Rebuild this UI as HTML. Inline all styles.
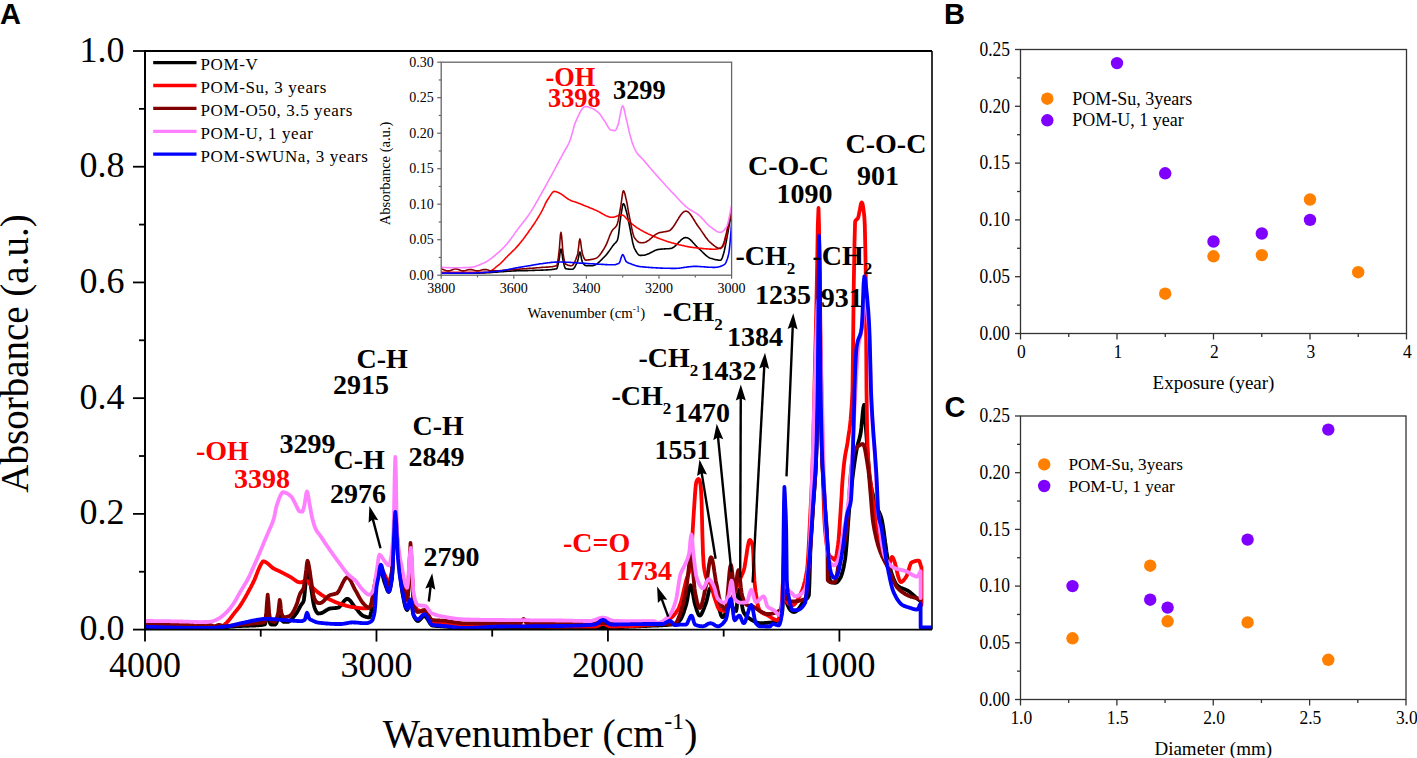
<!DOCTYPE html>
<html><head><meta charset="utf-8"><style>
html,body{margin:0;padding:0;background:#fff;width:1417px;height:758px;overflow:hidden}
svg{display:block}
</style></head><body>
<svg width="1417" height="758" viewBox="0 0 1417 758">
<defs><clipPath id="clipA"><rect x="145.0" y="51.0" width="787.0" height="578.6"/></clipPath>
<clipPath id="clipI"><rect x="441.2" y="62.2" width="290.4" height="213.0"/></clipPath></defs>
<rect width="1417" height="758" fill="#fff"/>
<g clip-path="url(#clipA)">
<polyline points="145.0,627.3 145.7,627.3 146.4,627.3 147.1,627.3 147.8,627.3 148.5,627.3 149.1,627.3 149.8,627.4 150.5,627.4 151.2,627.4 151.9,627.4 152.6,627.4 153.3,627.4 154.0,627.4 154.7,627.4 155.4,627.4 156.1,627.4 156.7,627.5 157.4,627.5 158.1,627.5 158.8,627.5 159.5,627.5 160.2,627.5 160.9,627.5 161.6,627.5 162.3,627.6 163.0,627.6 163.7,627.6 164.3,627.6 165.0,627.6 165.7,627.6 166.4,627.6 167.1,627.6 167.8,627.6 168.5,627.7 169.2,627.7 169.9,627.7 170.6,627.7 171.3,627.7 171.9,627.7 172.6,627.7 173.3,627.7 174.0,627.7 174.7,627.7 175.4,627.8 176.1,627.8 176.8,627.8 177.5,627.8 178.2,627.8 178.9,627.8 179.5,627.8 180.2,627.8 180.9,627.8 181.6,627.8 182.3,627.8 183.0,627.8 183.7,627.8 184.4,627.8 185.1,627.8 185.8,627.8 186.5,627.9 187.1,627.9 187.8,627.9 188.5,627.9 189.2,627.9 189.9,627.9 190.6,627.9 191.3,627.9 192.0,627.9 192.7,627.9 193.3,627.9 194.0,627.9 194.7,627.9 195.4,627.9 196.1,627.9 196.7,627.9 197.4,627.9 198.1,627.9 198.8,627.9 199.5,627.9 200.1,627.9 200.8,627.9 201.5,627.9 202.2,627.9 202.9,627.9 203.5,627.9 204.2,627.9 204.9,627.9 205.6,627.9 206.3,627.9 207.0,627.9 207.6,627.9 208.3,627.9 209.0,627.9 209.7,627.9 210.4,627.9 211.0,627.9 211.7,627.9 212.4,627.9 213.1,627.9 213.8,627.9 214.4,627.9 215.1,627.9 215.8,627.9 216.5,627.8 217.2,627.8 217.8,627.8 218.5,627.8 219.2,627.7 219.9,627.7 220.6,627.6 221.2,627.6 221.9,627.5 222.6,627.5 223.3,627.4 224.0,627.3 224.7,627.3 225.3,627.2 226.0,627.1 226.7,627.1 227.4,627.0 228.1,626.9 228.7,626.9 229.4,626.8 230.1,626.7 230.8,626.7 231.5,626.6 232.1,626.5 232.8,626.5 233.5,626.4 234.2,626.4 234.9,626.3 235.5,626.3 236.2,626.2 236.9,626.2 237.6,626.1 238.3,626.1 238.9,626.1 239.6,626.0 240.3,626.0 241.0,626.0 241.6,626.0 242.3,625.9 243.0,625.9 243.7,625.9 244.3,625.9 245.0,625.9 245.7,625.8 246.4,625.8 247.1,625.8 247.7,625.8 248.4,625.8 249.1,625.7 249.8,625.7 250.4,625.7 251.1,625.7 251.8,625.6 252.5,625.6 253.1,625.6 253.8,625.5 254.5,625.5 255.2,625.5 255.9,625.4 256.6,625.4 257.3,625.4 258.0,625.3 258.7,625.3 259.3,625.2 260.0,625.2 260.7,625.1 261.4,625.0 262.1,624.9 262.8,624.8 263.5,624.7 264.2,624.5 264.9,624.3 265.6,622.1 266.3,618.0 267.0,612.2 267.7,608.4 268.4,612.3 269.1,618.0 269.6,620.8 270.1,623.3 270.7,624.3 271.4,624.5 272.1,624.6 272.8,624.7 273.5,624.7 274.2,624.7 274.9,624.7 275.5,624.4 276.2,623.4 276.9,621.9 277.6,620.1 278.3,618.0 279.0,613.8 279.7,610.7 280.3,612.7 280.8,616.5 281.3,619.2 282.0,620.3 282.6,621.1 283.2,621.6 283.9,621.8 284.5,621.8 285.1,621.8 285.7,621.8 286.4,621.8 287.0,621.8 287.6,621.8 288.3,621.8 288.9,621.5 289.6,621.1 290.3,620.6 291.0,620.0 291.6,619.3 292.3,618.5 293.0,617.7 293.7,616.8 294.3,615.9 295.0,615.1 295.7,614.2 296.4,613.3 297.0,612.3 297.7,611.2 298.3,610.0 299.0,608.7 299.7,607.5 300.3,606.3 301.0,605.1 301.7,604.1 302.4,603.3 303.1,602.2 303.8,600.6 304.4,596.3 305.0,589.5 305.6,583.3 306.3,578.1 306.9,573.3 307.5,571.2 308.1,572.3 308.7,574.7 309.3,577.5 309.9,580.3 310.4,583.7 311.0,587.0 311.6,590.9 312.2,595.0 312.8,599.1 313.4,602.9 314.1,606.0 314.7,608.1 315.4,609.8 316.1,611.2 316.8,612.4 317.4,613.2 318.1,613.5 318.8,613.4 319.4,613.4 320.0,613.4 320.7,613.3 321.3,613.1 322.0,612.9 322.7,612.6 323.4,612.2 324.1,611.8 324.7,611.3 325.4,610.9 326.1,610.4 326.8,610.0 327.5,609.6 328.1,609.2 328.8,608.9 329.5,608.7 330.2,608.5 330.9,608.4 331.6,608.4 332.3,608.3 333.0,608.2 333.6,608.2 334.3,608.1 335.0,608.1 335.7,608.0 336.4,607.9 337.1,607.8 337.8,607.7 338.5,607.5 339.2,607.1 339.8,606.5 340.5,605.7 341.2,604.9 341.9,604.0 342.6,603.1 343.2,602.2 343.9,601.3 344.6,600.5 345.3,599.9 345.9,599.3 346.6,599.0 347.3,598.9 348.0,599.0 348.7,599.3 349.3,599.9 350.0,600.5 350.7,601.3 351.4,602.2 352.0,603.2 352.7,604.1 353.4,605.1 354.1,606.1 354.7,606.9 355.4,607.7 356.1,608.5 356.8,609.3 357.5,610.2 358.2,611.1 358.9,612.0 359.6,612.8 360.3,613.6 361.0,614.3 361.7,614.9 362.4,615.4 363.0,615.8 363.7,616.1 364.4,616.3 365.1,616.6 365.8,616.8 366.5,617.0 367.2,617.2 367.9,617.3 368.6,617.4 369.3,617.4 370.0,616.6 370.6,614.5 371.3,611.3 371.9,607.3 372.6,602.7 373.2,597.9 373.9,593.0 374.6,588.4 375.2,584.4 375.9,581.1 376.5,578.9 377.1,577.5 377.8,576.1 378.4,574.8 379.0,573.7 379.6,572.8 380.2,572.2 380.8,572.0 381.5,572.6 382.1,574.1 382.8,576.2 383.5,578.7 384.1,581.0 384.8,583.0 385.4,584.8 386.1,586.8 386.8,588.7 387.4,590.4 388.1,591.6 388.7,592.0 389.4,591.3 390.0,589.3 390.7,586.2 391.3,582.4 392.0,578.0 392.7,568.3 393.3,551.8 394.0,533.7 394.6,519.0 395.3,513.0 395.9,517.2 396.4,526.3 397.0,535.0 397.6,542.7 398.2,550.7 398.9,558.7 399.5,566.5 400.1,573.7 400.8,580.2 401.4,585.7 402.0,590.0 402.6,593.7 403.3,597.3 403.9,600.7 404.6,603.7 405.2,606.3 405.9,608.3 406.6,609.5 407.2,610.0 407.9,609.0 408.5,606.5 409.2,603.5 409.8,601.0 410.5,600.0 411.2,601.5 411.8,605.0 412.5,609.4 413.1,613.5 413.8,616.0 414.5,617.3 415.1,618.5 415.8,619.5 416.5,620.3 417.1,620.8 417.8,621.0 418.5,620.9 419.1,620.5 419.8,619.9 420.4,619.2 421.1,618.5 421.8,617.8 422.4,617.1 423.1,616.5 423.7,616.1 424.4,616.0 425.1,616.2 425.7,616.7 426.4,617.4 427.0,618.4 427.7,619.4 428.4,620.6 429.0,621.7 429.7,622.8 430.3,623.8 431.0,624.6 431.6,625.2 432.3,625.5 433.0,625.6 433.7,625.7 434.4,625.8 435.1,625.9 435.8,625.9 436.5,626.0 437.2,626.1 437.9,626.1 438.6,626.2 439.3,626.2 440.0,626.2 440.7,626.3 441.4,626.3 442.1,626.4 442.8,626.4 443.5,626.4 444.2,626.5 444.9,626.6 445.6,626.6 446.3,626.7 447.0,626.7 447.7,626.8 448.4,626.9 449.1,626.9 449.7,627.0 450.4,627.1 451.1,627.1 451.8,627.2 452.5,627.3 453.2,627.3 453.9,627.4 454.6,627.5 455.3,627.5 456.0,627.6 456.7,627.6 457.4,627.7 458.1,627.7 458.8,627.8 459.5,627.8 460.1,627.9 460.8,627.9 461.5,627.9 462.2,628.0 462.9,628.0 463.6,628.0 464.3,628.0 465.0,628.0 465.7,628.0 466.4,628.0 467.1,628.0 467.8,628.0 468.5,628.0 469.2,628.0 469.9,628.0 470.6,628.0 471.3,628.0 472.0,628.0 472.7,628.0 473.4,628.0 474.1,628.0 474.8,628.0 475.5,628.0 476.2,628.0 476.9,628.0 477.6,628.0 478.3,628.0 479.0,628.0 479.7,628.0 480.4,628.0 481.1,628.0 481.8,628.0 482.5,628.0 483.2,628.0 483.9,628.0 484.6,628.0 485.3,628.0 486.0,628.0 486.7,628.0 487.4,628.0 488.1,628.0 488.8,628.0 489.5,628.0 490.2,628.0 490.9,628.0 491.6,628.0 492.3,628.0 493.0,628.0 493.7,628.0 494.4,628.0 495.1,628.0 495.8,628.0 496.5,628.0 497.2,628.0 497.9,628.0 498.6,628.0 499.3,628.0 500.0,628.0 500.7,628.0 501.4,628.0 502.1,628.0 502.8,628.0 503.5,628.0 504.2,628.0 504.9,628.0 505.6,628.0 506.3,628.0 507.0,628.0 507.7,628.0 508.4,628.0 509.1,627.9 509.8,627.9 510.5,627.9 511.2,627.9 511.9,627.9 512.6,627.9 513.3,627.9 514.0,627.9 514.7,627.9 515.4,627.9 516.1,627.9 516.8,627.9 517.5,627.9 518.2,627.9 518.9,627.9 519.6,627.9 520.3,627.9 521.0,627.9 521.7,627.9 522.4,627.9 523.1,627.9 523.8,627.9 524.5,627.9 525.2,627.9 525.9,627.9 526.6,627.9 527.3,627.9 528.0,627.9 528.7,627.9 529.4,627.9 530.1,627.9 530.8,627.9 531.5,627.9 532.2,627.9 532.8,627.9 533.5,627.9 534.2,627.9 534.9,627.9 535.6,627.9 536.3,627.9 537.0,627.9 537.7,627.9 538.4,627.9 539.1,627.9 539.8,627.9 540.5,627.8 541.2,627.8 541.9,627.8 542.6,627.8 543.3,627.8 544.0,627.8 544.7,627.8 545.4,627.8 546.1,627.8 546.8,627.8 547.5,627.8 548.2,627.8 548.9,627.8 549.6,627.8 550.3,627.8 551.0,627.8 551.7,627.8 552.4,627.8 553.1,627.8 553.8,627.8 554.5,627.8 555.2,627.8 555.9,627.8 556.6,627.8 557.3,627.8 558.0,627.8 558.7,627.8 559.4,627.8 560.1,627.8 560.8,627.8 561.5,627.7 562.2,627.7 562.9,627.7 563.6,627.7 564.3,627.7 565.0,627.7 565.7,627.7 566.4,627.7 567.1,627.7 567.8,627.7 568.5,627.7 569.2,627.7 569.9,627.7 570.6,627.7 571.3,627.7 572.0,627.7 572.7,627.7 573.4,627.7 574.1,627.7 574.8,627.7 575.5,627.7 576.2,627.7 576.9,627.7 577.6,627.7 578.3,627.7 579.0,627.6 579.7,627.6 580.4,627.6 581.1,627.6 581.8,627.6 582.5,627.6 583.2,627.6 583.9,627.6 584.6,627.6 585.3,627.6 586.0,627.6 586.7,627.6 587.4,627.6 588.1,627.6 588.8,627.6 589.5,627.6 590.2,627.6 590.9,627.6 591.6,627.6 592.3,627.6 593.0,627.6 593.7,627.5 594.4,627.5 595.1,627.5 595.8,627.5 596.5,627.5 597.2,627.5 597.9,627.5 598.6,627.5 599.3,627.5 600.0,627.5 600.7,627.5 601.4,627.5 602.1,627.5 602.8,627.5 603.5,627.5 604.2,627.5 604.9,627.4 605.6,627.4 606.2,627.4 606.9,627.4 607.6,627.4 608.3,627.4 609.0,627.4 609.7,627.4 610.4,627.3 611.1,627.3 611.8,627.3 612.5,627.3 613.2,627.3 613.9,627.3 614.6,627.2 615.3,627.2 616.0,627.2 616.7,627.2 617.4,627.2 618.1,627.1 618.8,627.1 619.4,627.1 620.1,627.1 620.8,627.1 621.5,627.0 622.2,627.0 622.9,627.0 623.6,627.0 624.3,626.9 625.0,626.9 625.7,626.9 626.4,626.9 627.1,626.8 627.8,626.8 628.5,626.8 629.2,626.7 629.9,626.7 630.6,626.7 631.2,626.7 631.9,626.6 632.6,626.6 633.3,626.6 634.0,626.5 634.7,626.5 635.4,626.5 636.1,626.4 636.8,626.4 637.5,626.4 638.2,626.4 638.9,626.3 639.6,626.3 640.3,626.3 641.0,626.2 641.7,626.2 642.4,626.2 643.1,626.1 643.8,626.1 644.4,626.1 645.1,626.0 645.8,626.0 646.5,626.0 647.2,625.9 647.9,625.9 648.6,625.9 649.3,625.8 650.0,625.8 650.7,625.8 651.4,625.7 652.1,625.7 652.8,625.7 653.5,625.6 654.2,625.6 654.9,625.6 655.6,625.6 656.2,625.5 656.9,625.5 657.6,625.5 658.3,625.5 659.0,625.4 659.7,625.4 660.4,625.4 661.1,625.3 661.8,625.3 662.5,625.3 663.2,625.2 663.9,625.2 664.6,625.1 665.3,625.1 666.0,625.0 666.7,625.0 667.4,624.9 668.1,624.9 668.8,624.8 669.4,624.7 670.1,624.6 670.8,624.6 671.5,624.5 672.2,624.4 672.9,624.3 673.6,624.2 674.3,624.1 675.0,624.0 675.6,623.8 676.2,623.6 676.9,623.2 677.5,622.7 678.1,622.2 678.8,621.6 679.4,620.9 680.0,620.2 680.7,619.3 681.4,618.1 682.0,616.7 682.7,615.1 683.4,613.3 684.1,611.3 684.7,609.3 685.4,607.2 686.1,605.0 686.7,602.4 687.4,599.0 688.0,595.2 688.7,591.5 689.3,588.4 690.0,586.1 690.6,585.3 691.3,586.1 691.9,588.4 692.6,591.6 693.2,595.3 693.9,599.1 694.5,602.4 695.2,605.0 695.8,607.0 696.5,609.1 697.1,611.1 697.8,612.9 698.4,614.3 699.1,615.3 699.7,615.6 700.4,615.4 701.1,614.7 701.7,613.6 702.4,612.2 703.1,610.6 703.8,608.9 704.4,607.1 705.1,605.3 705.8,603.5 706.5,601.4 707.1,598.8 707.8,595.9 708.4,593.1 709.1,590.6 709.7,588.9 710.4,588.3 711.1,588.5 711.7,589.1 712.4,590.1 713.1,591.3 713.7,592.7 714.4,594.2 715.1,595.9 715.7,597.5 716.4,599.0 717.1,600.8 717.8,603.1 718.4,605.7 719.1,608.5 719.8,611.1 720.5,613.5 721.1,615.4 721.8,616.7 722.5,617.2 723.2,616.9 723.9,616.1 724.6,615.0 725.3,613.5 726.0,611.9 726.6,610.3 727.3,608.7 728.0,607.2 728.7,606.1 729.4,605.3 730.1,605.0 730.8,605.2 731.5,605.8 732.1,606.6 732.8,607.5 733.5,608.5 734.2,609.4 734.8,610.2 735.5,610.8 736.2,611.0 736.8,607.7 737.3,600.4 737.9,593.1 738.4,589.8 739.1,590.7 739.8,592.9 740.4,596.2 741.1,600.1 741.8,604.1 742.4,607.8 743.1,610.8 743.8,612.6 744.5,613.6 745.1,614.6 745.8,615.4 746.5,616.1 747.1,616.7 747.8,617.3 748.5,617.8 749.1,618.3 749.8,618.7 750.5,619.1 751.2,619.6 751.8,620.0 752.5,620.4 753.2,620.8 753.9,621.2 754.6,621.6 755.2,621.9 755.9,622.2 756.6,622.5 757.3,622.7 758.0,622.9 758.6,623.1 759.3,623.2 760.0,623.2 760.7,623.2 761.4,623.2 762.0,623.2 762.7,623.1 763.4,623.1 764.1,623.1 764.8,623.0 765.5,623.0 766.1,622.9 766.8,622.9 767.5,622.8 768.2,622.7 768.8,622.7 769.5,622.6 770.2,622.6 770.8,622.5 771.5,622.4 772.2,622.3 772.8,622.2 773.5,622.0 774.1,621.9 774.8,621.7 775.5,621.6 776.1,621.4 776.8,621.1 777.5,620.9 778.1,620.6 778.8,620.3 779.4,619.8 780.0,618.9 780.6,617.6 781.3,615.7 781.9,613.2 782.5,610.0 783.1,590.2 783.8,557.3 784.4,540.0 784.9,555.1 785.5,583.6 786.0,600.0 786.7,602.3 787.3,604.2 788.0,606.0 788.7,607.4 789.3,608.6 790.0,609.6 790.7,610.4 791.3,611.0 792.0,611.5 792.7,611.8 793.3,611.9 794.0,612.0 794.7,611.9 795.4,611.7 796.1,611.3 796.8,610.7 797.4,610.1 798.1,609.3 798.8,608.5 799.5,607.6 800.2,606.7 800.9,605.7 801.6,604.7 802.2,603.7 802.9,602.7 803.6,601.7 804.3,600.8 805.0,600.0 805.6,599.4 806.3,598.9 807.0,598.4 807.6,597.7 808.2,596.7 808.9,595.2 809.4,584.4 810.0,563.8 810.5,546.5 811.1,534.7 811.8,525.0 812.4,516.3 813.0,507.5 813.6,499.1 814.2,491.1 814.8,482.5 815.4,473.7 816.0,462.5 816.5,446.6 817.0,425.5 817.4,407.0 817.8,382.5 818.1,345.7 818.5,302.5 819.1,238.5 819.8,302.5 820.1,344.9 820.5,382.5 820.9,407.0 821.3,425.5 821.8,446.6 822.3,462.5 822.9,473.5 823.5,482.5 824.0,490.9 824.5,499.3 825.0,507.5 825.6,517.6 826.2,527.6 826.9,537.3 827.5,546.5 828.2,557.3 828.9,568.5 829.5,577.5 830.2,581.4 830.9,581.8 831.5,582.0 832.2,582.3 832.9,582.5 833.5,582.6 834.2,582.7 834.8,582.8 835.5,582.8 836.2,582.7 836.9,582.3 837.6,581.7 838.2,581.0 838.9,580.1 839.6,579.1 840.3,578.0 841.0,576.7 841.6,574.9 842.3,572.7 843.0,570.1 843.7,567.1 844.3,563.7 845.0,560.0 845.6,555.3 846.2,548.8 846.9,540.9 847.5,532.2 848.1,523.3 848.8,514.6 849.4,506.6 850.0,500.0 850.7,493.6 851.4,487.3 852.1,481.3 852.8,475.6 853.5,470.1 854.2,464.9 854.9,460.1 855.6,455.5 856.3,451.4 857.0,447.7 857.6,445.0 858.2,442.7 858.8,440.7 859.4,438.6 860.0,436.3 860.6,433.4 861.3,428.0 862.0,420.7 862.7,413.1 863.4,407.3 864.1,404.9 864.7,409.6 865.4,419.9 866.0,430.0 866.7,439.1 867.3,448.7 868.0,458.2 868.7,467.0 869.3,474.5 870.0,480.0 870.7,484.1 871.3,487.7 872.0,490.9 872.7,493.7 873.3,496.3 874.0,498.7 874.7,500.9 875.3,503.0 876.0,505.0 876.7,506.8 877.3,508.4 878.0,509.8 878.6,511.2 879.3,512.5 880.0,514.0 880.6,515.7 881.3,517.8 882.0,520.5 882.6,523.9 883.3,528.0 883.9,532.6 884.6,537.4 885.2,542.3 885.9,547.1 886.5,551.7 887.2,555.9 887.8,559.5 888.5,562.4 889.2,564.9 889.9,567.4 890.6,569.8 891.2,572.0 891.9,574.2 892.6,576.2 893.3,578.1 894.0,579.9 894.7,581.4 895.3,582.8 896.0,584.0 896.7,584.9 897.4,585.6 898.1,586.1 898.7,586.6 899.4,587.0 900.1,587.4 900.7,587.7 901.4,588.0 902.1,588.3 902.8,588.6 903.4,588.8 904.1,589.0 904.8,589.3 905.4,589.6 906.1,589.8 906.8,590.2 907.4,590.5 908.1,590.9 908.8,591.3 909.4,591.8 910.1,592.3 910.8,592.9 911.4,593.4 912.1,594.0 912.8,594.6 913.5,595.2 914.1,595.8 914.8,596.4 915.5,597.0 916.1,597.6 916.8,598.2 917.5,598.8 918.1,599.3 918.8,599.8 919.4,600.2 920.0,600.6 920.6,601.0" fill="none" stroke="#000000" stroke-width="3.8" stroke-linejoin="round" stroke-linecap="round" />
<polyline points="145.0,626.1 145.7,626.1 146.4,626.2 147.1,626.2 147.8,626.2 148.5,626.2 149.1,626.2 149.8,626.3 150.5,626.3 151.2,626.3 151.9,626.3 152.6,626.3 153.3,626.4 154.0,626.4 154.7,626.4 155.4,626.4 156.1,626.5 156.7,626.5 157.4,626.5 158.1,626.5 158.8,626.5 159.5,626.6 160.2,626.6 160.9,626.6 161.6,626.6 162.3,626.7 163.0,626.7 163.7,626.7 164.3,626.7 165.0,626.8 165.7,626.8 166.4,626.8 167.1,626.8 167.8,626.8 168.5,626.9 169.2,626.9 169.9,626.9 170.6,626.9 171.3,626.9 171.9,627.0 172.6,627.0 173.3,627.0 174.0,627.0 174.7,627.0 175.4,627.1 176.1,627.1 176.8,627.1 177.5,627.1 178.2,627.1 178.9,627.1 179.5,627.2 180.2,627.2 180.9,627.2 181.6,627.2 182.3,627.2 183.0,627.2 183.7,627.2 184.4,627.2 185.1,627.2 185.8,627.3 186.5,627.3 187.1,627.3 187.8,627.3 188.5,627.3 189.2,627.3 189.9,627.3 190.6,627.3 191.3,627.3 192.0,627.3 192.7,627.3 193.3,627.3 194.0,627.3 194.7,627.3 195.4,627.3 196.1,627.3 196.7,627.3 197.4,627.3 198.1,627.3 198.8,627.3 199.5,627.3 200.1,627.3 200.8,627.3 201.5,627.3 202.2,627.3 202.9,627.3 203.5,627.3 204.2,627.3 204.9,627.3 205.6,627.3 206.3,627.3 207.0,627.3 207.6,627.3 208.3,627.3 209.0,627.3 209.7,627.3 210.4,627.3 211.0,627.3 211.7,627.3 212.4,627.3 213.1,627.3 213.8,627.3 214.4,627.3 215.1,627.3 215.7,627.3 216.4,627.3 217.0,627.3 217.7,627.3 218.3,627.3 218.9,627.3 219.6,627.3 220.2,627.3 220.9,627.2 221.5,627.0 222.2,626.7 222.8,626.2 223.5,625.7 224.1,625.1 224.8,624.5 225.4,623.8 226.1,623.2 226.8,622.5 227.4,621.8 228.1,621.2 228.7,620.4 229.4,619.6 230.1,618.8 230.7,617.9 231.4,617.0 232.1,616.1 232.8,615.2 233.4,614.3 234.1,613.4 234.8,612.6 235.5,611.7 236.2,610.8 236.9,610.0 237.6,609.1 238.3,608.2 239.0,607.3 239.7,606.3 240.4,605.3 241.0,604.3 241.7,603.3 242.3,602.3 243.0,601.2 243.6,600.1 244.3,599.0 244.9,597.9 245.6,596.8 246.2,595.6 246.9,594.4 247.5,593.3 248.2,592.0 248.9,590.7 249.6,589.4 250.3,588.1 251.0,586.8 251.7,585.4 252.4,584.1 253.1,582.6 253.8,581.2 254.5,579.7 255.2,578.0 255.9,576.3 256.6,574.4 257.3,572.6 258.0,570.8 258.7,569.1 259.3,567.7 260.0,566.3 260.7,564.9 261.4,563.5 262.1,562.4 262.8,561.6 263.5,561.3 264.2,561.4 264.9,561.7 265.6,562.1 266.3,562.5 266.9,562.9 267.6,563.3 268.2,563.9 268.9,564.5 269.6,565.1 270.2,565.7 270.9,566.3 271.5,566.9 272.2,567.5 272.8,568.0 273.5,568.4 274.1,568.8 274.8,569.1 275.5,569.4 276.1,569.7 276.8,570.0 277.4,570.3 278.1,570.6 278.8,570.9 279.5,571.3 280.2,571.6 280.9,572.0 281.6,572.3 282.3,572.7 283.0,573.0 283.7,573.4 284.3,573.7 285.0,574.1 285.7,574.5 286.4,574.8 287.1,575.2 287.8,575.6 288.5,575.9 289.2,576.3 289.9,576.7 290.6,577.1 291.3,577.5 292.0,578.0 292.7,578.5 293.4,579.0 294.1,579.5 294.8,580.0 295.5,580.5 296.2,580.9 296.8,581.4 297.5,581.7 298.2,582.0 298.9,582.2 299.6,582.4 300.3,582.4 301.0,582.4 301.7,582.2 302.3,581.9 303.0,581.6 303.7,581.3 304.3,581.0 305.0,580.7 305.7,580.5 306.3,580.5 307.0,580.6 307.6,581.1 308.3,581.8 309.0,582.7 309.6,583.6 310.3,584.6 310.9,585.6 311.6,586.5 312.2,587.2 312.9,587.9 313.5,588.5 314.2,589.1 314.9,589.7 315.5,590.3 316.2,590.9 316.8,591.4 317.5,592.0 318.1,592.5 318.8,592.9 319.5,593.4 320.2,593.9 320.9,594.4 321.5,594.8 322.2,595.2 322.9,595.7 323.6,596.1 324.2,596.5 324.9,596.9 325.6,597.3 326.3,597.6 327.0,598.0 327.6,598.4 328.3,598.7 329.0,599.0 329.6,599.4 330.3,599.7 331.0,600.0 331.7,600.4 332.3,600.7 333.0,601.0 333.7,601.3 334.3,601.6 335.0,601.9 335.7,602.2 336.3,602.4 337.0,602.7 337.7,603.0 338.4,603.2 339.0,603.5 339.7,603.7 340.4,603.9 341.1,604.1 341.8,604.4 342.4,604.6 343.1,604.8 343.8,605.0 344.5,605.2 345.2,605.4 345.9,605.6 346.6,605.8 347.3,606.0 348.0,606.2 348.7,606.3 349.4,606.5 350.1,606.7 350.8,606.8 351.5,606.9 352.2,607.0 352.9,607.2 353.5,607.2 354.2,607.3 354.9,607.4 355.5,607.5 356.2,607.6 356.9,607.7 357.6,607.8 358.2,607.9 358.9,608.0 359.6,608.1 360.2,608.1 360.9,608.2 361.6,608.2 362.2,608.3 362.9,608.3 363.6,608.4 364.3,608.4 364.9,608.4 365.6,608.4 366.2,608.4 366.9,608.3 367.5,608.1 368.1,607.9 368.8,607.6 369.4,607.2 370.0,606.8 370.7,606.4 371.3,605.1 372.0,602.6 372.6,599.0 373.3,594.8 373.9,590.2 374.6,585.7 375.2,581.6 375.9,578.2 376.5,575.8 377.1,574.2 377.8,572.6 378.4,571.1 379.0,569.9 379.6,568.9 380.2,568.2 380.8,568.0 381.5,568.4 382.1,569.3 382.8,570.6 383.5,572.1 384.1,573.7 384.8,575.0 385.4,576.3 386.1,577.8 386.8,579.4 387.4,580.7 388.1,581.6 388.7,582.0 389.4,581.4 390.0,579.7 390.7,577.1 391.3,573.8 392.0,570.0 392.7,561.8 393.3,547.8 394.0,532.5 394.6,520.1 395.3,515.0 395.9,520.1 396.4,530.9 397.0,540.0 397.6,546.3 398.2,552.2 398.9,557.5 399.5,562.4 400.1,566.9 400.8,570.9 401.4,574.6 402.0,578.0 402.6,581.4 403.3,584.9 403.9,588.2 404.6,591.3 405.2,594.0 405.9,596.1 406.6,597.5 407.2,598.0 407.9,593.0 408.5,581.1 409.2,566.9 409.8,555.0 410.5,550.0 411.2,555.0 411.8,567.2 412.5,582.0 413.1,595.1 413.8,602.0 414.5,604.2 415.1,606.1 415.8,607.5 416.5,608.7 417.1,609.5 417.8,610.0 418.5,610.3 419.1,610.6 419.8,610.8 420.4,610.9 421.1,611.1 421.8,611.2 422.4,611.3 423.1,611.5 423.7,611.7 424.4,612.0 425.1,612.4 425.7,613.1 426.4,614.0 427.0,615.0 427.7,616.0 428.4,617.2 429.0,618.3 429.7,619.3 430.3,620.3 431.0,621.1 431.6,621.7 432.3,622.0 433.0,622.2 433.7,622.4 434.4,622.6 435.1,622.7 435.8,622.9 436.5,623.0 437.2,623.1 437.9,623.2 438.6,623.3 439.3,623.4 440.0,623.5 440.7,623.6 441.4,623.7 442.1,623.8 442.8,623.8 443.5,623.9 444.2,624.0 444.9,624.1 445.6,624.2 446.3,624.3 447.0,624.4 447.7,624.4 448.4,624.5 449.1,624.6 449.7,624.7 450.4,624.8 451.1,624.9 451.8,625.0 452.5,625.1 453.2,625.1 453.9,625.2 454.6,625.3 455.3,625.4 456.0,625.4 456.7,625.5 457.4,625.6 458.1,625.6 458.8,625.7 459.5,625.8 460.1,625.8 460.8,625.9 461.5,625.9 462.2,625.9 462.9,626.0 463.6,626.0 464.3,626.0 465.0,626.0 465.7,626.0 466.4,626.0 467.1,626.0 467.8,626.0 468.5,626.0 469.2,626.0 469.9,626.0 470.6,626.1 471.3,626.1 472.0,626.1 472.7,626.1 473.4,626.1 474.1,626.1 474.8,626.1 475.5,626.1 476.2,626.1 476.9,626.1 477.6,626.1 478.3,626.1 479.0,626.1 479.7,626.1 480.4,626.1 481.1,626.1 481.8,626.1 482.5,626.1 483.2,626.2 483.9,626.2 484.6,626.2 485.3,626.2 486.0,626.2 486.7,626.2 487.4,626.2 488.1,626.2 488.8,626.2 489.5,626.2 490.2,626.2 490.9,626.2 491.6,626.2 492.3,626.2 493.0,626.2 493.7,626.2 494.4,626.2 495.1,626.2 495.8,626.2 496.5,626.2 497.2,626.2 497.8,626.3 498.5,626.3 499.2,626.3 499.9,626.3 500.6,626.3 501.3,626.3 502.0,626.3 502.7,626.3 503.4,626.3 504.1,626.3 504.8,626.3 505.5,626.3 506.2,626.3 506.9,626.3 507.6,626.3 508.3,626.3 509.0,626.3 509.7,626.3 510.4,626.3 511.1,626.3 511.8,626.3 512.5,626.3 513.2,626.3 513.9,626.3 514.6,626.3 515.3,626.3 516.0,626.3 516.7,626.4 517.4,626.4 518.1,626.4 518.8,626.4 519.5,626.4 520.2,626.4 520.9,626.4 521.6,626.4 522.3,626.4 523.0,626.4 523.7,626.4 524.4,626.4 525.1,626.4 525.8,626.4 526.5,626.4 527.2,626.4 527.9,626.4 528.6,626.4 529.3,626.4 530.0,626.4 530.7,626.4 531.4,626.4 532.1,626.4 532.8,626.4 533.5,626.4 534.2,626.4 534.9,626.4 535.6,626.4 536.3,626.4 537.0,626.4 537.7,626.4 538.4,626.4 539.1,626.4 539.8,626.4 540.5,626.4 541.2,626.4 541.9,626.4 542.6,626.4 543.3,626.4 544.0,626.4 544.7,626.4 545.4,626.4 546.1,626.5 546.8,626.5 547.5,626.5 548.2,626.5 548.9,626.5 549.6,626.5 550.3,626.5 551.0,626.5 551.7,626.5 552.4,626.5 553.1,626.5 553.8,626.5 554.5,626.5 555.2,626.5 555.9,626.5 556.6,626.5 557.3,626.5 558.0,626.5 558.7,626.5 559.4,626.5 560.1,626.5 560.8,626.5 561.5,626.5 562.2,626.5 562.8,626.5 563.5,626.5 564.2,626.5 564.9,626.5 565.6,626.5 566.3,626.5 567.0,626.5 567.7,626.5 568.4,626.5 569.1,626.5 569.8,626.5 570.5,626.5 571.2,626.5 571.9,626.5 572.6,626.5 573.3,626.5 574.0,626.5 574.7,626.5 575.4,626.5 576.1,626.5 576.8,626.5 577.5,626.5 578.2,626.5 578.9,626.5 579.6,626.5 580.3,626.5 581.0,626.5 581.7,626.5 582.4,626.5 583.1,626.5 583.8,626.5 584.5,626.5 585.2,626.5 585.9,626.5 586.6,626.5 587.3,626.5 588.0,626.5 588.7,626.5 589.4,626.5 590.1,626.5 590.8,626.5 591.5,626.5 592.2,626.5 592.9,626.5 593.6,626.5 594.3,626.5 595.0,626.5 595.7,626.5 596.3,626.3 597.0,626.1 597.7,625.9 598.3,625.6 599.0,625.2 599.7,624.9 600.3,624.6 601.0,624.4 601.7,624.2 602.3,624.0 603.0,624.0 603.7,624.0 604.3,624.2 605.0,624.4 605.7,624.6 606.3,624.9 607.0,625.2 607.7,625.6 608.3,625.9 609.0,626.1 609.7,626.3 610.3,626.5 611.0,626.5 611.7,626.5 612.4,626.5 613.1,626.5 613.8,626.5 614.5,626.5 615.2,626.5 615.9,626.5 616.6,626.5 617.3,626.5 618.0,626.5 618.7,626.4 619.4,626.4 620.1,626.4 620.8,626.4 621.4,626.4 622.1,626.4 622.8,626.4 623.5,626.3 624.2,626.3 624.9,626.3 625.6,626.3 626.3,626.3 627.0,626.2 627.7,626.2 628.4,626.2 629.1,626.2 629.8,626.1 630.5,626.1 631.2,626.1 631.9,626.1 632.6,626.0 633.3,626.0 634.0,626.0 634.7,625.9 635.4,625.9 636.1,625.9 636.8,625.8 637.5,625.8 638.2,625.8 638.9,625.7 639.6,625.7 640.2,625.6 640.9,625.6 641.6,625.6 642.3,625.5 643.0,625.5 643.7,625.4 644.4,625.4 645.1,625.3 645.8,625.3 646.5,625.2 647.2,625.2 647.9,625.2 648.6,625.1 649.3,625.1 650.0,625.0 650.7,624.9 651.4,624.9 652.1,624.8 652.8,624.7 653.5,624.6 654.2,624.5 654.9,624.3 655.6,624.2 656.3,624.0 657.0,623.9 657.7,623.7 658.4,623.5 659.1,623.3 659.7,623.1 660.4,622.9 661.1,622.6 661.8,622.4 662.5,622.1 663.2,621.9 663.9,621.6 664.6,621.3 665.3,621.0 666.0,620.7 666.7,620.4 667.4,620.1 668.1,619.7 668.8,619.4 669.5,619.0 670.2,618.6 670.8,618.1 671.5,617.5 672.2,616.9 672.9,616.3 673.5,615.5 674.2,614.8 674.9,614.0 675.6,613.1 676.2,612.2 676.9,611.2 677.6,610.2 678.2,609.2 678.8,608.0 679.4,606.5 680.0,605.0 680.7,602.9 681.4,600.4 682.1,597.7 682.8,594.7 683.5,591.7 684.2,588.6 684.9,585.6 685.6,582.7 686.3,580.0 686.9,577.9 687.6,576.2 688.2,574.5 688.9,572.6 689.6,570.2 690.2,567.0 690.8,561.1 691.5,551.8 692.1,541.0 692.7,530.5 693.3,520.5 693.9,511.0 694.5,502.0 695.1,493.0 695.7,485.8 696.3,482.0 696.8,480.8 697.4,479.8 698.0,479.2 698.5,479.0 699.0,479.4 699.5,480.6 700.1,482.5 700.6,485.0 701.1,491.1 701.6,502.0 702.0,517.9 702.4,535.0 703.0,553.6 703.7,565.0 704.3,569.3 704.9,572.6 705.5,575.2 706.1,577.2 706.7,578.8 707.3,580.0 707.9,581.0 708.5,581.7 709.2,582.2 709.8,582.9 710.4,583.8 711.0,585.2 711.7,587.2 712.3,589.5 713.0,592.1 713.6,594.6 714.3,596.9 714.9,598.9 715.6,600.8 716.2,602.7 716.9,604.7 717.5,606.4 718.2,607.9 718.8,609.0 719.5,609.6 720.2,609.9 720.8,610.1 721.5,610.4 722.2,610.5 722.8,610.7 723.5,610.8 724.2,610.9 724.8,611.0 725.5,611.0 726.2,610.7 726.9,610.0 727.5,608.8 728.2,607.4 728.9,605.8 729.6,604.0 730.2,602.3 730.9,600.5 731.6,599.0 732.2,597.6 732.9,596.2 733.6,594.7 734.2,593.2 734.9,591.7 735.5,590.2 736.2,588.7 736.8,587.1 737.5,585.6 738.1,584.0 738.8,582.4 739.4,580.8 740.1,579.3 740.7,577.7 741.3,576.3 741.9,574.9 742.6,573.5 743.2,571.9 743.8,570.1 744.5,567.4 745.1,563.7 745.8,559.5 746.5,554.9 747.1,550.5 747.8,546.4 748.5,543.1 749.1,540.8 749.8,540.0 750.4,540.3 751.0,541.2 751.7,542.6 752.3,544.7 752.9,547.3 753.4,555.9 753.9,570.4 754.4,580.7 755.0,586.5 755.6,591.7 756.3,596.3 756.9,600.3 757.5,603.6 758.1,606.4 758.8,608.5 759.4,610.0 760.0,611.0 760.7,611.7 761.4,612.2 762.0,612.7 762.7,613.1 763.4,613.4 764.1,613.7 764.8,614.0 765.5,614.3 766.1,614.6 766.8,614.9 767.5,615.2 768.2,615.6 768.8,616.0 769.5,616.4 770.2,616.9 770.9,617.3 771.5,617.8 772.2,618.2 772.9,618.6 773.6,619.0 774.2,619.4 774.9,619.7 775.6,619.9 776.3,620.1 776.9,620.3 777.6,620.3 778.2,619.9 778.8,618.6 779.5,616.6 780.1,614.1 780.7,611.1 781.3,607.7 781.9,600.5 782.5,588.4 783.2,575.1 783.8,564.4 784.4,560.0 784.9,570.1 785.5,589.2 786.0,600.0 786.7,601.2 787.3,602.1 788.0,603.0 788.6,603.6 789.3,604.2 790.0,604.6 790.6,604.9 791.3,605.1 791.9,605.2 792.6,605.2 793.3,605.1 793.9,604.7 794.6,604.1 795.3,603.4 796.0,602.5 796.6,601.4 797.3,600.2 798.0,599.0 798.7,597.7 799.3,596.3 800.0,595.0 800.7,593.6 801.4,592.0 802.1,590.4 802.8,588.5 803.5,586.3 804.2,583.9 804.9,581.1 805.6,577.9 806.3,574.2 807.0,570.0 807.7,563.1 808.4,552.1 809.1,538.7 809.8,524.2 810.5,510.0 811.2,497.3 811.8,483.6 812.5,467.0 813.0,450.3 813.5,430.0 814.0,409.0 814.6,382.9 815.2,355.8 815.9,328.0 816.5,300.0 817.2,262.9 817.8,225.2 818.5,208.0 819.0,224.8 819.5,262.0 820.0,300.0 820.5,333.5 821.0,368.0 821.5,400.0 822.0,430.1 822.5,458.1 823.0,480.0 823.7,501.6 824.3,519.0 825.0,530.0 825.7,536.7 826.3,542.4 827.0,547.1 827.7,550.8 828.3,553.4 829.0,555.0 829.6,555.8 830.2,556.4 830.8,556.9 831.4,557.3 832.0,557.7 832.6,558.1 833.2,558.7 833.8,559.3 834.4,559.8 835.0,560.0 835.6,559.1 836.2,556.8 836.8,553.4 837.4,549.4 838.0,545.0 838.6,539.4 839.2,531.9 839.8,523.1 840.4,513.8 841.0,504.7 841.6,495.6 842.1,486.2 842.7,478.0 843.3,471.1 843.9,465.1 844.5,460.0 845.1,455.9 845.7,452.5 846.3,449.4 846.9,446.3 847.5,442.9 848.1,438.8 848.7,434.3 849.4,430.1 850.0,425.4 850.6,419.7 851.2,412.3 851.9,402.6 852.5,390.0 853.1,342.2 853.8,282.4 854.5,242.8 855.1,221.7 855.7,220.4 856.3,219.8 856.8,219.3 857.4,218.8 858.0,218.0 858.6,216.0 859.2,212.9 859.9,209.4 860.5,206.0 861.1,203.5 861.7,202.5 862.4,203.4 863.0,206.2 863.6,210.5 864.3,216.4 864.8,225.6 865.2,243.3 865.7,269.2 866.1,328.1 866.5,390.0 867.1,429.4 867.7,451.0 868.4,462.3 869.1,470.4 869.8,476.3 870.5,481.4 871.2,487.0 871.8,492.2 872.4,497.0 873.0,501.7 873.6,506.2 874.2,510.6 874.8,515.0 875.4,519.5 876.0,524.2 876.6,528.6 877.2,532.6 877.8,535.7 878.5,538.6 879.1,541.5 879.8,544.3 880.5,547.0 881.1,549.6 881.8,552.1 882.5,554.5 883.1,556.7 883.8,558.7 884.5,560.5 885.2,562.1 885.8,563.5 886.5,564.5 887.2,565.3 887.8,565.8 888.5,566.0 889.2,565.1 889.9,562.8 890.6,560.2 891.3,557.9 892.0,557.0 892.7,557.4 893.4,558.6 894.1,560.4 894.8,562.6 895.5,565.2 896.2,568.1 896.8,570.9 897.5,573.8 898.2,576.4 898.9,578.6 899.6,580.4 900.3,581.6 901.0,582.0 901.7,581.9 902.3,581.5 903.0,581.0 903.6,580.3 904.3,579.5 905.0,578.5 905.6,577.6 906.3,576.6 907.0,575.3 907.6,573.4 908.3,571.2 909.0,568.8 909.6,566.6 910.3,564.6 910.9,563.1 911.6,562.4 912.3,562.1 912.9,561.8 913.6,561.6 914.2,561.4 914.9,561.2 915.5,561.0 916.2,560.9 916.8,560.7 917.5,560.7 918.1,560.6 918.8,560.6 919.5,561.4 920.1,563.3 920.8,565.6 921.5,567.7 921.5,605.0" fill="none" stroke="#ff0000" stroke-width="3.8" stroke-linejoin="round" stroke-linecap="round" />
<polyline points="145.0,625.0 145.7,625.0 146.4,625.0 147.1,624.9 147.8,624.9 148.5,624.9 149.1,624.9 149.8,624.9 150.5,624.9 151.2,624.9 151.9,624.9 152.6,624.9 153.3,624.9 154.0,624.8 154.7,624.8 155.4,624.8 156.1,624.8 156.7,624.8 157.4,624.8 158.1,624.8 158.8,624.8 159.5,624.8 160.2,624.7 160.9,624.7 161.6,624.7 162.3,624.7 163.0,624.7 163.7,624.7 164.3,624.7 165.0,624.7 165.7,624.6 166.4,624.6 167.1,624.6 167.8,624.6 168.5,624.6 169.2,624.6 169.9,624.6 170.6,624.6 171.3,624.6 171.9,624.6 172.6,624.5 173.3,624.5 174.0,624.5 174.7,624.5 175.4,624.5 176.1,624.5 176.8,624.5 177.5,624.5 178.2,624.5 178.9,624.5 179.5,624.5 180.2,624.5 180.9,624.4 181.6,624.4 182.3,624.4 183.0,624.4 183.7,624.4 184.4,624.4 185.1,624.4 185.8,624.4 186.5,624.4 187.1,624.4 187.8,624.4 188.5,624.4 189.2,624.4 189.9,624.4 190.6,624.4 191.3,624.4 192.0,624.5 192.6,624.7 193.3,625.1 193.9,625.4 194.6,625.8 195.3,626.0 195.9,626.1 196.6,626.0 197.2,625.8 197.9,625.4 198.6,625.1 199.2,624.7 199.9,624.5 200.6,624.4 201.2,624.5 201.9,624.7 202.5,625.1 203.2,625.4 203.9,625.8 204.5,626.0 205.2,626.1 205.8,626.1 206.5,625.9 207.2,625.7 207.8,625.4 208.5,625.2 209.2,625.0 209.8,625.0 210.5,625.0 211.1,625.2 211.8,625.4 212.5,625.7 213.1,625.9 213.8,626.1 214.4,626.1 215.1,626.1 215.8,625.9 216.4,625.7 217.1,625.4 217.7,625.2 218.4,625.0 219.1,625.0 219.7,625.0 220.4,625.2 221.1,625.4 221.7,625.7 222.4,625.9 223.0,626.1 223.7,626.1 224.4,626.1 225.1,626.1 225.8,626.1 226.5,626.0 227.2,626.0 227.9,626.0 228.6,625.9 229.3,625.8 229.9,625.8 230.6,625.7 231.3,625.6 232.0,625.6 232.7,625.5 233.4,625.4 234.1,625.3 234.8,625.2 235.5,625.2 236.2,625.1 236.9,625.0 237.6,625.0 238.3,624.9 238.9,624.9 239.6,624.8 240.3,624.7 241.0,624.7 241.6,624.6 242.3,624.6 243.0,624.5 243.7,624.4 244.3,624.4 245.0,624.3 245.7,624.3 246.4,624.2 247.1,624.1 247.7,624.1 248.4,624.0 249.1,623.9 249.8,623.9 250.4,623.8 251.1,623.7 251.8,623.7 252.5,623.6 253.1,623.5 253.8,623.4 254.5,623.4 255.2,623.3 255.9,623.2 256.6,623.2 257.3,623.1 258.0,623.1 258.7,623.0 259.3,623.0 260.0,622.9 260.7,622.8 261.4,622.7 262.1,622.6 262.8,622.5 263.5,622.3 264.2,622.1 264.9,621.8 265.6,618.5 266.3,612.2 267.0,601.9 267.7,594.7 268.4,602.1 269.1,612.2 269.8,617.5 270.5,620.3 271.1,620.8 271.8,621.2 272.4,621.5 273.1,621.7 273.7,621.8 274.4,621.8 275.0,621.5 275.7,620.6 276.4,619.1 277.0,617.2 277.7,614.9 278.3,612.2 279.0,605.4 279.7,600.0 280.3,602.7 280.8,608.2 281.3,612.2 282.0,614.7 282.7,616.5 283.4,617.3 284.1,617.3 284.7,617.2 285.4,617.1 286.0,617.0 286.7,616.9 287.3,616.7 288.0,616.5 288.6,616.3 289.3,616.1 289.9,615.8 290.5,615.4 291.2,614.8 291.8,614.0 292.5,613.1 293.1,611.9 293.8,610.7 294.4,609.5 295.0,608.1 295.7,606.8 296.3,605.2 297.0,603.3 297.7,601.1 298.3,598.9 299.0,596.7 299.7,594.8 300.3,593.3 300.9,592.3 301.5,591.5 302.1,590.8 302.7,589.9 303.3,588.7 303.9,586.4 304.5,582.9 305.1,578.7 305.6,574.6 306.3,569.2 306.9,563.5 307.5,560.8 308.1,562.0 308.7,564.9 309.3,568.3 309.9,571.7 310.4,575.9 311.0,579.7 311.6,583.7 312.2,587.7 312.8,591.5 313.4,594.9 314.1,597.6 314.7,599.3 315.4,600.5 316.1,601.5 316.8,602.3 317.4,602.8 318.1,603.0 318.8,603.1 319.4,603.1 320.0,603.1 320.7,603.0 321.3,602.8 322.0,602.4 322.7,601.9 323.4,601.3 324.1,600.6 324.7,599.9 325.4,599.2 326.1,598.4 326.8,597.7 327.5,597.0 328.1,596.4 328.8,595.8 329.5,595.4 330.2,595.1 330.9,594.8 331.6,594.7 332.3,594.5 333.0,594.4 333.6,594.2 334.3,594.1 335.0,593.9 335.7,593.7 336.4,593.5 337.1,593.1 337.8,592.4 338.5,591.5 339.1,590.4 339.8,589.1 340.5,587.7 341.2,586.3 341.9,584.9 342.5,583.4 343.2,582.1 343.9,580.8 344.6,579.7 345.3,578.7 345.9,578.0 346.6,577.5 347.3,577.4 348.0,577.5 348.7,578.0 349.3,578.7 350.0,579.7 350.7,580.9 351.4,582.1 352.0,583.5 352.7,584.9 353.4,586.4 354.1,587.8 354.7,589.1 355.4,590.3 356.1,591.4 356.8,592.7 357.5,594.0 358.2,595.3 358.9,596.6 359.6,597.9 360.3,599.1 361.0,600.3 361.7,601.4 362.4,602.3 363.0,603.1 363.7,603.8 364.4,604.6 365.1,605.3 365.8,606.0 366.5,606.6 367.2,607.1 367.9,607.5 368.6,607.8 369.3,607.9 370.0,607.3 370.6,605.7 371.3,603.3 371.9,600.2 372.6,596.6 373.2,592.9 373.9,589.1 374.6,585.4 375.2,582.1 375.9,579.4 376.5,577.4 377.1,575.9 377.8,574.4 378.4,573.0 379.0,571.8 379.6,570.9 380.2,570.2 380.8,570.0 381.5,570.4 382.1,571.5 382.8,573.1 383.5,574.8 384.1,576.5 384.8,578.0 385.4,579.4 386.1,580.9 386.8,582.4 387.4,583.7 388.1,584.7 388.7,585.0 389.4,584.3 390.0,582.5 390.7,579.7 391.3,576.1 392.0,572.0 392.7,562.6 393.3,546.6 394.0,528.8 394.6,514.5 395.3,508.6 395.9,515.2 396.4,528.9 397.0,540.0 397.6,547.1 398.2,553.4 398.9,559.1 399.5,564.2 400.1,568.8 400.8,572.9 401.4,576.6 402.0,580.0 402.6,583.5 403.3,586.9 403.9,590.3 404.6,593.4 405.2,596.1 405.9,598.1 406.6,599.5 407.2,600.0 407.8,597.3 408.4,590.3 408.9,580.6 409.5,570.0 410.0,554.2 410.5,543.0 411.1,553.4 411.8,570.0 412.5,584.2 413.1,597.7 413.8,605.0 414.5,607.1 415.1,608.9 415.8,610.2 416.5,611.2 417.1,611.8 417.8,612.0 418.5,611.9 419.1,611.8 419.8,611.6 420.4,611.3 421.1,611.0 421.8,610.7 422.4,610.4 423.1,610.2 423.7,610.1 424.4,610.0 425.1,610.2 425.7,610.7 426.4,611.5 427.0,612.5 427.7,613.7 428.4,614.9 429.0,616.1 429.7,617.2 430.3,618.3 431.0,619.1 431.6,619.7 432.3,620.0 433.0,620.1 433.7,620.2 434.4,620.2 435.1,620.3 435.8,620.3 436.5,620.4 437.2,620.4 437.9,620.5 438.6,620.5 439.3,620.5 440.0,620.6 440.7,620.6 441.4,620.6 442.1,620.7 442.8,620.7 443.5,620.7 444.2,620.8 444.9,620.9 445.6,620.9 446.3,621.0 447.0,621.1 447.7,621.2 448.4,621.3 449.1,621.4 449.7,621.5 450.4,621.6 451.1,621.7 451.8,621.8 452.5,622.0 453.2,622.1 453.9,622.2 454.6,622.3 455.3,622.4 456.0,622.5 456.7,622.6 457.4,622.7 458.1,622.8 458.8,622.9 459.5,623.0 460.1,623.1 460.8,623.2 461.5,623.2 462.2,623.3 462.9,623.3 463.6,623.4 464.3,623.4 465.0,623.4 465.7,623.4 466.4,623.4 467.1,623.4 467.8,623.4 468.5,623.4 469.2,623.4 469.9,623.4 470.6,623.4 471.3,623.4 472.0,623.4 472.7,623.4 473.4,623.4 474.1,623.4 474.7,623.4 475.4,623.4 476.1,623.4 476.8,623.4 477.5,623.4 478.2,623.4 478.9,623.4 479.6,623.5 480.3,623.5 481.0,623.5 481.7,623.5 482.4,623.5 483.1,623.5 483.8,623.5 484.5,623.5 485.2,623.5 485.9,623.5 486.6,623.5 487.3,623.5 488.0,623.5 488.7,623.5 489.4,623.5 490.1,623.5 490.8,623.5 491.5,623.5 492.2,623.5 492.8,623.5 493.5,623.5 494.2,623.5 494.9,623.5 495.6,623.5 496.3,623.5 497.0,623.5 497.7,623.5 498.4,623.5 499.1,623.5 499.8,623.5 500.5,623.5 501.2,623.5 501.9,623.5 502.6,623.5 503.3,623.5 504.0,623.5 504.7,623.5 505.4,623.5 506.1,623.5 506.8,623.5 507.5,623.5 508.2,623.5 508.9,623.5 509.6,623.5 510.3,623.5 510.9,623.5 511.6,623.5 512.3,623.5 513.0,623.5 513.7,623.5 514.4,623.5 515.1,623.5 515.8,623.5 516.5,623.5 517.2,623.5 517.9,623.5 518.6,623.5 519.3,623.5 520.0,623.5 520.6,623.2 521.2,622.3 521.9,621.2 522.5,620.2 523.1,619.3 523.7,619.0 524.4,619.5 525.0,620.6 525.7,621.9 526.3,623.0 527.0,623.5 527.7,623.5 528.4,623.5 529.1,623.5 529.8,623.5 530.5,623.5 531.2,623.5 531.9,623.5 532.6,623.5 533.3,623.5 534.0,623.5 534.6,623.5 535.3,623.5 536.0,623.5 536.7,623.5 537.4,623.5 538.1,623.5 538.8,623.5 539.5,623.5 540.2,623.5 540.9,623.5 541.6,623.4 542.3,623.4 543.0,623.4 543.7,623.4 544.4,623.4 545.1,623.4 545.8,623.4 546.5,623.4 547.2,623.4 547.9,623.4 548.6,623.4 549.2,623.4 549.9,623.4 550.6,623.4 551.3,623.4 552.0,623.4 552.7,623.4 553.4,623.4 554.1,623.3 554.8,623.3 555.5,623.3 556.2,623.3 556.9,623.3 557.6,623.3 558.3,623.3 559.0,623.3 559.7,623.3 560.4,623.3 561.1,623.3 561.8,623.3 562.5,623.3 563.2,623.3 563.8,623.2 564.5,623.2 565.2,623.2 565.9,623.2 566.6,623.2 567.3,623.2 568.0,623.2 568.7,623.2 569.4,623.2 570.1,623.2 570.8,623.2 571.5,623.2 572.2,623.2 572.9,623.2 573.6,623.1 574.3,623.1 575.0,623.1 575.7,623.1 576.4,623.1 577.1,623.1 577.8,623.1 578.4,623.1 579.1,623.1 579.8,623.1 580.5,623.1 581.2,623.1 581.9,623.1 582.6,623.1 583.3,623.1 584.0,623.1 584.7,623.1 585.4,623.1 586.1,623.0 586.8,623.0 587.5,623.0 588.2,623.0 588.9,623.0 589.6,623.0 590.3,623.0 591.0,623.0 591.7,623.0 592.4,623.0 593.0,623.0 593.7,623.0 594.4,623.0 595.1,623.0 595.8,623.0 596.5,623.0 597.2,623.0 597.9,623.0 598.6,623.0 599.3,623.0 600.0,623.0 600.7,623.0 601.4,623.0 602.1,623.0 602.8,623.0 603.5,623.0 604.2,623.0 604.9,623.0 605.6,623.1 606.2,623.1 606.9,623.1 607.6,623.1 608.3,623.1 609.0,623.1 609.7,623.1 610.4,623.2 611.1,623.2 611.8,623.2 612.5,623.2 613.2,623.3 613.9,623.3 614.6,623.3 615.3,623.3 616.0,623.4 616.7,623.4 617.4,623.4 618.1,623.4 618.8,623.5 619.4,623.5 620.1,623.5 620.8,623.6 621.5,623.6 622.2,623.6 622.9,623.7 623.6,623.7 624.3,623.7 625.0,623.8 625.7,623.8 626.4,623.8 627.1,623.8 627.8,623.9 628.5,623.9 629.2,623.9 629.9,624.0 630.6,624.0 631.2,624.0 631.9,624.1 632.6,624.1 633.3,624.1 634.0,624.1 634.7,624.2 635.4,624.2 636.1,624.2 636.8,624.2 637.5,624.3 638.2,624.3 638.9,624.3 639.6,624.3 640.3,624.4 641.0,624.4 641.7,624.4 642.4,624.4 643.1,624.4 643.8,624.4 644.4,624.4 645.1,624.5 645.8,624.5 646.5,624.5 647.2,624.5 647.9,624.5 648.6,624.5 649.3,624.5 650.0,624.5 650.7,624.5 651.4,624.5 652.1,624.5 652.8,624.5 653.5,624.5 654.2,624.5 654.9,624.5 655.6,624.5 656.2,624.5 656.9,624.5 657.6,624.4 658.3,624.4 659.0,624.4 659.7,624.4 660.4,624.4 661.1,624.4 661.8,624.3 662.5,624.3 663.2,624.3 663.9,624.3 664.6,624.2 665.3,624.2 666.0,624.2 666.7,624.1 667.4,624.1 668.1,624.0 668.8,624.0 669.4,624.0 670.1,623.9 670.8,623.9 671.5,623.8 672.2,623.8 672.9,623.7 673.6,623.6 674.3,623.6 675.0,623.5 675.6,623.2 676.2,622.6 676.9,621.6 677.5,620.3 678.1,618.9 678.8,617.3 679.4,615.7 680.0,614.1 680.7,612.3 681.4,610.2 682.0,607.8 682.7,605.3 683.4,602.5 684.1,599.6 684.7,596.5 685.4,593.2 686.1,589.8 686.8,585.3 687.5,579.5 688.2,573.0 688.9,566.7 689.6,561.2 690.3,557.4 691.0,556.0 691.6,557.7 692.2,562.1 692.8,568.4 693.4,575.5 694.0,582.6 694.6,588.7 695.2,592.9 695.8,596.0 696.5,599.1 697.1,601.9 697.8,604.4 698.4,606.3 699.1,607.5 699.7,608.0 700.4,607.6 701.1,606.3 701.7,604.5 702.4,602.0 703.1,599.2 703.8,596.2 704.4,593.0 705.1,589.8 705.8,586.8 706.5,583.3 707.1,579.0 707.8,574.1 708.5,569.1 709.1,564.6 709.8,560.8 710.4,558.2 711.1,557.2 711.8,558.0 712.4,560.2 713.1,563.5 713.8,567.4 714.4,571.8 715.1,576.2 715.7,580.3 716.4,583.8 717.1,587.0 717.7,590.2 718.4,593.5 719.0,596.7 719.7,599.5 720.3,601.8 721.0,603.5 721.6,604.8 722.3,606.1 722.9,607.2 723.6,608.2 724.2,608.9 724.9,609.4 725.5,609.6 726.2,607.7 726.9,602.6 727.5,595.4 728.2,587.2 728.9,579.0 729.5,571.8 730.2,566.7 730.9,564.8 731.5,566.8 732.1,571.7 732.8,578.0 733.4,584.4 734.0,589.3 734.6,591.3 735.2,589.7 735.9,585.8 736.5,580.7 737.1,575.6 737.8,571.7 738.4,570.1 739.0,571.7 739.7,575.9 740.3,581.5 740.9,587.5 741.6,592.6 742.2,595.9 742.9,597.9 743.5,599.7 744.2,601.3 744.8,602.6 745.5,603.7 746.1,604.5 746.8,605.0 747.5,605.3 748.2,605.5 748.8,605.6 749.5,605.8 750.2,605.9 750.9,606.0 751.5,606.1 752.2,606.3 752.9,606.5 753.5,606.8 754.2,607.1 754.8,607.5 755.5,607.9 756.1,608.4 756.8,608.9 757.4,609.3 758.1,609.8 758.7,610.3 759.4,610.7 760.0,611.0 760.7,611.3 761.4,611.7 762.0,612.1 762.7,612.4 763.4,612.8 764.1,613.1 764.8,613.4 765.5,613.7 766.1,613.8 766.8,614.0 767.5,614.0 768.2,614.0 768.8,614.0 769.5,613.9 770.2,613.9 770.8,613.8 771.5,613.7 772.1,613.6 772.8,613.4 773.5,613.3 774.1,613.1 774.8,612.9 775.5,612.6 776.1,612.4 776.8,612.1 777.4,611.7 778.1,611.4 778.8,611.0 779.4,610.6 780.1,610.2 780.7,609.5 781.3,608.2 781.8,606.3 782.4,603.6 783.0,600.0 783.7,578.8 784.4,560.0 784.9,569.7 785.5,587.9 786.0,598.0 786.7,598.8 787.3,599.4 788.0,599.9 788.6,600.4 789.3,600.7 790.0,601.0 790.6,601.2 791.3,601.3 791.9,601.4 792.6,601.4 793.3,601.4 793.9,601.4 794.6,601.4 795.3,601.3 795.9,601.3 796.6,601.2 797.2,601.1 797.9,601.0 798.6,600.9 799.2,600.8 799.9,600.7 800.6,600.5 801.2,600.3 801.9,600.1 802.5,599.9 803.2,599.7 803.9,599.5 804.5,599.2 805.2,598.9 805.9,597.3 806.5,593.5 807.2,587.9 807.9,580.8 808.5,572.8 809.2,564.2 809.8,555.5 810.5,547.0 811.1,538.3 811.8,528.2 812.4,517.8 813.0,508.0 813.6,499.6 814.2,491.6 814.8,483.0 815.4,474.2 816.0,463.0 816.5,447.1 817.0,426.0 817.4,407.5 817.8,383.0 818.1,346.2 818.5,303.0 819.1,239.0 819.8,303.0 820.1,345.4 820.5,383.0 820.9,407.5 821.3,426.0 821.8,447.1 822.3,463.0 822.9,474.0 823.5,483.0 824.0,491.4 824.5,499.8 825.0,508.0 825.6,515.4 826.2,520.9 826.9,529.7 827.5,547.0 827.7,580.1 828.3,580.9 829.0,581.5 829.6,581.9 830.2,582.2 830.8,582.4 831.5,582.5 832.1,582.6 832.7,582.6 833.3,582.6 833.9,582.4 834.4,582.2 835.0,582.0 835.7,580.7 836.3,577.9 837.0,574.0 837.7,569.7 838.3,565.5 839.0,562.0 839.7,559.2 840.3,556.7 841.0,554.5 841.7,552.3 842.3,550.2 843.0,548.1 843.6,545.7 844.3,543.2 845.0,540.2 845.6,536.9 846.3,533.0 846.9,527.9 847.5,520.8 848.1,512.2 848.8,502.8 849.4,493.2 850.0,484.0 850.6,475.9 851.2,469.5 851.8,463.9 852.5,458.7 853.1,454.5 853.7,452.0 854.4,450.6 855.1,449.4 855.8,448.4 856.4,447.7 857.1,447.0 857.8,446.5 858.5,446.0 859.1,445.6 859.7,445.2 860.3,444.8 861.0,444.5 861.6,444.2 862.2,444.1 862.8,444.0 863.5,444.6 864.2,446.3 864.9,448.9 865.5,452.2 866.2,456.1 866.9,460.4 867.6,465.0 868.3,469.5 868.9,474.5 869.5,481.0 870.1,488.5 870.8,496.6 871.4,504.5 872.0,512.0 872.6,518.3 873.2,523.0 873.9,526.9 874.5,530.4 875.2,533.7 875.9,536.7 876.5,539.5 877.2,542.1 877.8,544.4 878.5,546.6 879.2,548.7 879.8,550.6 880.5,552.4 881.2,554.1 881.8,555.6 882.5,557.1 883.2,558.4 883.8,559.6 884.5,560.9 885.1,562.0 885.8,563.2 886.5,564.4 887.1,565.7 887.8,567.0 888.5,568.4 889.1,569.9 889.8,571.4 890.4,573.1 891.1,574.7 891.7,576.3 892.4,577.9 893.0,579.5 893.7,581.1 894.3,582.5 895.0,583.9 895.6,585.2 896.3,586.3 896.9,587.2 897.6,588.0 898.3,588.7 899.0,589.4 899.6,590.0 900.3,590.6 901.0,591.2 901.7,591.7 902.4,592.2 903.1,592.7 903.8,593.1 904.4,593.6 905.1,594.0 905.8,594.4 906.5,594.7 907.2,595.1 907.9,595.4 908.5,595.7 909.2,596.0 909.9,596.3 910.6,596.6 911.3,596.8 912.0,597.0 912.6,597.2 913.3,597.3 914.0,597.5 914.7,597.6 915.4,597.8 916.1,598.0 916.7,598.2 917.4,598.4 918.1,598.6 918.8,598.9 919.4,599.2 920.0,599.6 920.6,600.0" fill="none" stroke="#800000" stroke-width="3.8" stroke-linejoin="round" stroke-linecap="round" />
<polyline points="145.0,621.0 145.7,621.0 146.4,621.0 147.0,621.0 147.7,621.0 148.4,621.0 149.1,621.0 149.8,621.0 150.4,621.0 151.1,621.0 151.8,621.0 152.5,621.0 153.2,621.1 153.9,621.1 154.5,621.1 155.2,621.1 155.9,621.1 156.6,621.1 157.3,621.1 157.9,621.1 158.6,621.1 159.3,621.1 160.0,621.1 160.7,621.1 161.3,621.1 162.0,621.1 162.7,621.1 163.4,621.1 164.1,621.2 164.7,621.2 165.4,621.2 166.1,621.2 166.8,621.2 167.5,621.2 168.1,621.2 168.8,621.2 169.5,621.2 170.2,621.2 170.9,621.3 171.6,621.3 172.2,621.3 172.9,621.3 173.6,621.3 174.3,621.3 175.0,621.3 175.6,621.4 176.3,621.4 177.0,621.4 177.7,621.4 178.4,621.4 179.0,621.4 179.7,621.5 180.4,621.5 181.1,621.5 181.8,621.5 182.4,621.5 183.1,621.6 183.8,621.6 184.5,621.6 185.2,621.6 185.8,621.6 186.5,621.7 187.2,621.7 187.9,621.7 188.6,621.7 189.3,621.7 189.9,621.8 190.6,621.8 191.3,621.8 192.0,621.8 192.6,621.8 193.3,621.9 193.9,621.9 194.6,621.9 195.3,621.9 195.9,622.0 196.6,622.0 197.2,622.0 197.9,622.0 198.6,622.1 199.2,622.1 199.9,622.1 200.6,622.1 201.2,622.1 201.9,622.1 202.5,622.1 203.2,622.1 203.9,622.0 204.5,622.0 205.2,622.0 205.8,622.0 206.5,622.0 207.2,621.9 207.8,621.9 208.5,621.9 209.2,621.8 209.8,621.8 210.5,621.7 211.1,621.6 211.8,621.5 212.5,621.3 213.1,621.1 213.8,620.9 214.4,620.6 215.1,620.3 215.8,620.0 216.4,619.7 217.1,619.3 217.7,619.0 218.4,618.7 219.1,618.3 219.8,617.9 220.5,617.5 221.2,617.0 221.8,616.5 222.5,615.9 223.2,615.4 223.9,614.7 224.6,614.1 225.3,613.4 226.0,612.8 226.7,612.1 227.4,611.4 228.1,610.7 228.7,609.9 229.4,609.2 230.1,608.3 230.7,607.5 231.4,606.6 232.1,605.7 232.8,604.8 233.4,603.8 234.1,602.7 234.8,601.6 235.5,600.4 236.2,599.2 236.9,598.0 237.6,596.7 238.3,595.4 239.0,594.2 239.7,592.9 240.4,591.7 241.0,590.6 241.7,589.5 242.3,588.5 243.0,587.4 243.6,586.4 244.3,585.3 244.9,584.2 245.6,583.2 246.2,582.0 246.9,580.9 247.5,579.7 248.2,578.3 248.9,576.9 249.6,575.5 250.3,574.0 251.0,572.5 251.7,570.9 252.4,569.4 253.1,567.8 253.8,566.2 254.5,564.7 255.1,563.2 255.8,561.7 256.4,560.2 257.1,558.7 257.7,557.2 258.4,555.7 259.1,554.2 259.7,552.6 260.4,551.1 261.0,549.6 261.7,548.0 262.4,546.4 263.0,544.7 263.7,543.1 264.4,541.4 265.1,539.8 265.8,538.1 266.5,536.5 267.2,534.8 267.9,533.1 268.6,531.5 269.3,529.9 270.0,528.3 270.7,526.8 271.4,525.2 272.1,523.6 272.8,521.7 273.5,519.7 274.2,517.0 274.9,513.8 275.5,510.4 276.2,507.3 276.9,504.9 277.6,502.9 278.3,500.9 279.0,498.9 279.7,497.1 280.4,495.5 281.1,494.2 281.8,493.1 282.5,492.4 283.2,492.2 283.8,492.2 284.4,492.4 285.0,492.6 285.7,492.8 286.3,493.1 286.9,493.3 287.5,493.6 288.1,494.0 288.8,494.5 289.4,495.0 290.0,495.5 290.7,496.1 291.3,496.8 292.0,497.6 292.6,498.6 293.3,499.8 293.9,501.0 294.6,502.3 295.3,503.6 295.9,504.9 296.6,506.3 297.3,507.9 298.0,509.4 298.7,510.6 299.4,511.2 300.1,511.4 300.8,511.6 301.5,511.7 302.2,511.7 302.8,511.0 303.4,509.2 304.0,507.1 304.6,504.2 305.2,500.2 305.8,496.1 306.4,492.9 307.0,491.6 307.6,492.8 308.2,495.6 308.8,499.2 309.3,502.5 310.0,506.3 310.7,510.3 311.4,514.2 312.1,517.5 312.8,520.3 313.5,522.9 314.2,525.2 314.9,527.3 315.6,528.9 316.3,530.2 316.9,531.3 317.6,532.2 318.2,533.1 318.9,533.9 319.6,534.8 320.2,535.7 320.9,536.7 321.6,537.7 322.2,538.7 322.9,539.7 323.6,540.7 324.3,541.8 324.9,542.8 325.6,543.8 326.3,544.8 327.0,545.8 327.6,546.7 328.3,547.7 329.0,548.7 329.6,549.6 330.3,550.6 331.0,551.5 331.7,552.5 332.3,553.4 333.0,554.4 333.7,555.3 334.3,556.3 335.0,557.2 335.7,558.1 336.3,559.0 337.0,560.0 337.7,560.9 338.4,561.8 339.0,562.7 339.7,563.6 340.4,564.5 341.0,565.4 341.7,566.3 342.4,567.3 343.1,568.2 343.7,569.1 344.4,570.1 345.1,570.9 345.7,571.8 346.4,572.6 347.1,573.4 347.8,574.1 348.5,574.8 349.2,575.4 349.9,576.0 350.5,576.5 351.2,577.1 351.9,577.6 352.6,578.1 353.3,578.7 354.0,579.2 354.7,579.9 355.4,580.5 356.1,581.3 356.8,582.1 357.5,583.1 358.2,584.0 358.9,585.0 359.6,586.0 360.3,587.0 361.0,587.9 361.7,588.8 362.4,589.6 363.0,590.3 363.7,590.9 364.4,591.6 365.1,592.2 365.8,592.9 366.5,593.5 367.2,594.0 367.9,594.4 368.6,594.6 369.3,594.7 370.0,594.6 370.6,594.1 371.3,593.4 371.9,592.5 372.6,591.5 373.2,590.3 373.9,588.2 374.6,584.9 375.2,580.8 375.9,576.5 376.5,572.5 377.1,568.5 377.7,563.9 378.3,559.4 378.9,556.1 379.5,554.8 380.2,555.0 380.8,555.6 381.5,556.4 382.1,557.4 382.8,558.5 383.5,559.5 384.1,560.6 384.8,561.4 385.4,562.2 386.1,563.0 386.8,563.9 387.4,564.6 388.1,565.1 388.7,565.3 389.4,564.6 390.0,562.7 390.7,559.5 391.4,555.1 392.1,549.5 392.7,542.8 393.4,535.0 394.0,511.3 394.7,475.5 395.3,457.0 395.9,474.1 396.4,507.4 397.0,530.0 397.6,538.3 398.2,545.0 398.9,550.5 399.5,554.9 400.1,558.7 400.8,561.9 401.4,564.9 402.0,568.0 402.6,571.4 403.3,574.8 403.9,578.1 404.6,581.2 405.2,583.9 405.9,585.9 406.6,587.3 407.2,587.8 407.8,584.6 408.4,576.9 408.9,567.7 409.5,560.0 410.1,552.3 410.8,548.0 411.4,551.8 412.0,560.0 412.6,576.4 413.2,590.4 413.9,594.4 414.5,597.6 415.2,600.2 415.8,602.2 416.5,603.6 417.1,604.5 417.8,604.9 418.5,605.1 419.1,605.3 419.8,605.4 420.4,605.5 421.1,605.5 421.8,605.6 422.4,605.6 423.1,605.7 423.7,605.8 424.4,605.9 425.0,606.0 425.7,606.2 426.4,606.6 427.0,607.3 427.7,608.3 428.4,609.3 429.0,610.4 429.7,611.4 430.3,612.3 431.0,612.8 431.7,613.2 432.4,613.5 433.1,613.8 433.8,614.1 434.5,614.4 435.2,614.6 435.9,614.9 436.6,615.1 437.3,615.3 437.9,615.5 438.6,615.7 439.3,615.8 440.0,616.0 440.7,616.1 441.4,616.3 442.1,616.4 442.8,616.5 443.5,616.7 444.2,616.8 444.9,616.9 445.6,617.1 446.3,617.2 447.0,617.3 447.7,617.4 448.4,617.5 449.1,617.7 449.7,617.8 450.4,617.9 451.1,618.0 451.8,618.1 452.5,618.2 453.2,618.3 453.9,618.4 454.6,618.5 455.3,618.6 456.0,618.7 456.7,618.8 457.4,618.8 458.1,618.9 458.8,619.0 459.5,619.0 460.1,619.1 460.8,619.2 461.5,619.2 462.2,619.3 462.9,619.3 463.6,619.3 464.3,619.4 465.0,619.4 465.7,619.4 466.4,619.4 467.1,619.5 467.8,619.5 468.5,619.5 469.2,619.5 469.9,619.5 470.6,619.6 471.3,619.6 472.0,619.6 472.7,619.6 473.4,619.6 474.1,619.6 474.8,619.7 475.5,619.7 476.2,619.7 476.9,619.7 477.6,619.7 478.3,619.7 479.0,619.7 479.7,619.7 480.4,619.8 481.1,619.8 481.8,619.8 482.5,619.8 483.2,619.8 483.9,619.8 484.6,619.8 485.3,619.8 486.0,619.8 486.7,619.8 487.4,619.9 488.1,619.9 488.8,619.9 489.5,619.9 490.2,619.9 490.9,619.9 491.6,619.9 492.3,619.9 493.0,619.9 493.7,619.9 494.4,619.9 495.1,619.9 495.8,620.0 496.5,620.0 497.2,620.0 497.9,620.0 498.6,620.0 499.3,620.0 500.0,620.0 500.7,620.0 501.4,620.0 502.1,620.0 502.8,620.0 503.5,620.0 504.2,620.0 504.9,620.1 505.6,620.1 506.3,620.1 507.0,620.1 507.7,620.1 508.4,620.1 509.1,620.1 509.8,620.1 510.5,620.1 511.2,620.1 511.9,620.1 512.6,620.1 513.3,620.1 514.0,620.1 514.7,620.1 515.3,620.1 516.0,620.2 516.7,620.2 517.4,620.2 518.1,620.2 518.8,620.2 519.5,620.2 520.2,620.2 520.9,620.2 521.6,620.2 522.3,620.2 523.0,620.2 523.7,620.2 524.4,620.2 525.1,620.2 525.8,620.2 526.5,620.2 527.2,620.2 527.9,620.2 528.6,620.2 529.3,620.2 530.0,620.3 530.7,620.3 531.4,620.3 532.1,620.3 532.8,620.3 533.5,620.3 534.2,620.3 534.9,620.3 535.6,620.3 536.3,620.3 537.0,620.3 537.7,620.3 538.4,620.3 539.1,620.3 539.8,620.3 540.5,620.3 541.2,620.3 541.9,620.3 542.6,620.3 543.3,620.3 544.0,620.3 544.7,620.4 545.3,620.4 546.0,620.4 546.7,620.4 547.4,620.4 548.1,620.4 548.8,620.4 549.5,620.4 550.2,620.4 550.9,620.4 551.6,620.4 552.3,620.4 553.0,620.4 553.7,620.4 554.4,620.4 555.1,620.4 555.8,620.5 556.5,620.5 557.2,620.5 557.9,620.5 558.6,620.5 559.3,620.5 560.0,620.5 560.7,620.5 561.4,620.5 562.1,620.5 562.8,620.5 563.5,620.6 564.2,620.6 564.9,620.6 565.6,620.6 566.3,620.6 567.0,620.6 567.7,620.6 568.4,620.6 569.1,620.7 569.8,620.7 570.5,620.7 571.2,620.7 571.9,620.7 572.6,620.7 573.3,620.8 574.0,620.8 574.7,620.8 575.3,620.8 576.0,620.8 576.7,620.8 577.4,620.8 578.1,620.9 578.8,620.9 579.5,620.9 580.2,620.9 580.9,620.9 581.6,620.9 582.3,620.9 583.0,620.9 583.7,621.0 584.4,621.0 585.1,621.0 585.8,621.0 586.5,621.0 587.2,621.0 587.9,621.0 588.6,621.0 589.3,621.0 590.0,621.0 590.7,621.0 591.4,620.9 592.1,620.8 592.7,620.6 593.4,620.4 594.1,620.2 594.8,620.0 595.5,619.7 596.2,619.4 596.8,619.2 597.5,618.9 598.2,618.6 598.9,618.4 599.6,618.2 600.3,618.0 600.9,617.8 601.6,617.7 602.3,617.6 603.0,617.6 603.7,617.6 604.3,617.7 605.0,617.8 605.7,618.0 606.3,618.2 607.0,618.5 607.7,618.7 608.3,619.0 609.0,619.3 609.7,619.6 610.3,619.8 611.0,620.1 611.7,620.3 612.3,620.6 613.0,620.7 613.7,620.9 614.3,621.0 615.0,621.0 615.7,621.0 616.4,621.0 617.1,621.0 617.8,621.0 618.5,621.0 619.2,621.0 619.9,621.0 620.6,621.1 621.3,621.1 622.0,621.1 622.7,621.1 623.4,621.1 624.1,621.1 624.8,621.1 625.5,621.1 626.2,621.1 626.9,621.1 627.6,621.1 628.3,621.1 629.0,621.1 629.7,621.1 630.4,621.1 631.1,621.1 631.8,621.1 632.5,621.1 633.2,621.1 633.9,621.1 634.5,621.1 635.2,621.1 635.9,621.1 636.6,621.1 637.3,621.1 638.0,621.1 638.7,621.1 639.4,621.1 640.1,621.1 640.8,621.1 641.5,621.1 642.2,621.1 642.9,621.1 643.6,621.1 644.3,621.1 645.0,621.1 645.7,621.1 646.4,621.1 647.1,621.1 647.8,621.1 648.5,621.1 649.2,621.1 649.9,621.2 650.6,621.2 651.3,621.2 652.0,621.2 652.7,621.2 653.4,621.2 654.1,621.2 654.8,621.4 655.5,621.7 656.1,622.2 656.8,622.5 657.5,622.7 658.2,622.7 658.8,622.6 659.5,622.5 660.2,622.3 660.8,622.0 661.5,621.8 662.2,621.4 662.8,621.1 663.5,620.7 664.1,620.2 664.8,619.8 665.5,619.3 666.1,618.7 666.8,618.2 667.5,617.6 668.1,617.0 668.8,616.4 669.5,615.7 670.1,614.8 670.8,613.7 671.4,612.5 672.1,611.1 672.7,609.6 673.4,607.9 674.0,606.1 674.7,604.2 675.3,602.2 676.0,600.0 676.6,597.2 677.3,593.4 677.9,589.1 678.6,584.5 679.2,580.3 679.9,576.6 680.5,574.0 681.2,572.2 681.9,570.7 682.5,569.4 683.2,568.2 683.9,567.0 684.6,565.5 685.2,564.1 685.9,562.7 686.5,561.3 687.2,559.8 687.8,558.0 688.5,555.9 689.1,553.4 689.7,549.1 690.2,542.7 690.8,537.0 691.4,534.5 692.0,537.0 692.5,543.1 693.1,550.3 693.7,556.4 694.3,561.5 694.9,566.6 695.5,571.3 696.1,575.1 696.7,577.7 697.4,579.7 698.1,581.5 698.7,583.2 699.4,584.6 700.1,585.9 700.8,586.9 701.4,587.7 702.1,588.1 702.8,588.3 703.5,588.0 704.1,587.2 704.8,585.9 705.5,584.5 706.1,583.0 706.8,581.6 707.5,580.3 708.1,579.5 708.8,579.2 709.5,579.4 710.1,579.9 710.8,580.7 711.4,581.7 712.1,582.9 712.7,584.1 713.4,585.3 714.1,586.9 714.7,588.9 715.4,591.3 716.0,593.7 716.7,596.0 717.3,597.8 718.0,598.9 718.7,599.6 719.3,600.2 720.0,600.8 720.7,601.4 721.3,601.8 722.0,602.2 722.7,602.5 723.3,602.6 724.0,602.7 724.7,602.5 725.3,602.0 726.0,601.2 726.6,600.1 727.3,598.8 727.9,597.4 728.6,595.9 729.2,593.4 729.8,589.5 730.4,585.4 731.0,582.1 731.6,580.7 732.2,582.5 732.8,586.7 733.4,592.0 734.0,596.5 734.6,598.9 735.3,599.7 736.0,600.4 736.6,601.0 737.3,601.5 738.0,601.9 738.7,602.3 739.3,602.5 740.0,602.7 740.7,602.7 741.4,602.7 742.1,602.7 742.7,602.6 743.4,602.6 744.1,602.5 744.8,602.4 745.4,602.3 746.1,602.1 746.8,602.0 747.4,601.2 748.1,599.4 748.7,597.1 749.4,594.5 750.0,592.2 750.7,590.5 751.3,589.8 752.0,590.5 752.6,592.2 753.3,594.6 753.9,597.2 754.6,599.6 755.2,601.3 755.9,602.0 756.6,601.9 757.2,601.6 757.9,601.1 758.5,600.5 759.2,599.9 759.8,599.2 760.5,598.5 761.2,597.9 761.8,597.3 762.5,596.8 763.1,596.5 763.8,596.4 764.4,597.1 765.0,598.7 765.6,601.0 766.3,603.3 766.9,605.3 767.5,606.5 768.2,607.1 768.9,607.7 769.6,608.1 770.3,608.5 771.0,608.8 771.7,609.1 772.4,609.4 773.1,609.8 773.8,610.2 774.4,610.7 775.1,611.3 775.7,611.9 776.3,612.6 777.0,613.2 777.6,613.8 778.2,614.4 778.8,614.8 779.5,615.1 780.1,615.2 780.7,614.0 781.3,610.8 781.9,606.0 782.5,600.0 783.1,581.4 783.8,554.0 784.4,540.0 784.9,551.3 785.5,572.6 786.0,585.0 786.7,586.9 787.3,588.4 788.0,589.5 788.6,590.4 789.3,591.1 790.0,591.7 790.6,592.2 791.3,592.7 791.9,593.2 792.6,593.9 793.2,594.7 793.9,595.5 794.5,596.1 795.1,596.4 795.8,596.4 796.4,596.3 797.1,596.1 797.8,595.9 798.5,595.6 799.1,595.3 799.8,594.8 800.5,594.3 801.2,593.8 801.8,593.2 802.5,592.5 803.2,591.7 803.9,590.8 804.5,589.9 805.2,588.9 805.8,587.1 806.5,583.9 807.1,579.5 807.7,573.9 808.4,567.3 809.0,560.0 809.6,549.9 810.2,535.1 810.8,517.5 811.4,498.5 812.0,480.0 812.6,460.9 813.2,440.1 813.8,418.8 814.4,398.4 815.0,380.0 815.7,359.8 816.3,338.5 817.0,319.2 817.6,305.3 818.3,300.0 818.9,305.1 819.6,318.6 820.2,337.5 820.9,359.0 821.5,380.0 822.1,403.0 822.8,430.3 823.4,457.5 824.0,480.0 824.6,498.7 825.2,516.2 825.9,530.6 826.5,540.0 827.1,545.9 827.7,551.1 828.4,555.4 829.0,558.8 829.6,561.2 830.2,562.6 830.9,563.4 831.5,564.1 832.2,564.6 832.8,565.0 833.5,565.3 834.1,565.4 834.8,565.2 835.4,564.6 836.0,563.7 836.7,562.6 837.4,561.4 838.0,560.0 838.6,558.3 839.2,555.9 839.9,552.9 840.5,549.6 841.1,546.0 841.8,542.2 842.4,538.5 843.0,535.0 843.6,531.6 844.2,528.3 844.9,525.0 845.5,521.5 846.1,517.9 846.8,514.0 847.4,509.7 848.0,505.0 848.7,499.4 849.3,493.0 850.0,485.8 850.7,478.0 851.3,469.4 852.0,460.0 852.6,449.9 853.2,437.7 853.8,424.5 854.4,411.6 855.0,400.0 855.7,387.2 856.4,374.1 857.1,362.0 857.8,352.0 858.5,345.0 859.1,341.2 859.8,338.5 860.4,336.2 861.1,333.6 861.7,330.0 862.4,322.8 863.0,312.8 863.6,303.9 864.3,300.0 865.0,300.8 865.6,303.0 866.3,306.2 867.0,310.0 867.6,315.1 868.3,322.7 869.0,332.8 869.6,345.0 870.3,369.5 871.0,395.0 871.6,408.3 872.3,419.1 872.9,428.4 873.5,436.9 874.2,445.5 874.8,455.0 875.4,465.4 876.0,476.6 876.6,487.9 877.2,498.6 877.8,507.9 878.4,515.0 879.0,521.2 879.7,527.0 880.4,532.5 881.0,537.6 881.6,542.2 882.3,546.3 882.9,549.9 883.6,552.9 884.2,555.3 884.9,557.0 885.6,558.4 886.3,559.7 887.0,560.8 887.6,561.9 888.3,562.9 889.0,563.7 889.7,564.5 890.4,565.2 891.1,565.9 891.7,566.4 892.4,566.9 893.1,567.3 893.8,567.7 894.5,568.0 895.2,568.3 895.9,568.6 896.6,568.8 897.3,569.0 898.0,569.2 898.7,569.4 899.4,569.5 900.0,569.7 900.7,569.8 901.4,570.0 902.1,570.1 902.8,570.3 903.5,570.5 904.2,570.6 904.9,570.8 905.6,571.1 906.3,571.3 907.0,571.6 907.6,571.9 908.3,572.3 909.0,572.7 909.6,573.1 910.3,573.6 911.0,574.0 911.6,574.4 912.3,574.9 913.0,575.3 913.7,575.6 914.3,576.0 915.0,576.2 915.7,576.4 916.3,576.6 917.0,576.6 917.6,576.3 918.2,575.6 918.8,574.6 919.4,573.5 920.0,572.3 920.6,571.3 920.6,598.0" fill="none" stroke="#ff80ff" stroke-width="3.8" stroke-linejoin="round" stroke-linecap="round" />
<polyline points="145.0,626.7 145.7,626.7 146.4,626.7 147.1,626.8 147.8,626.8 148.5,626.8 149.1,626.8 149.8,626.8 150.5,626.9 151.2,626.9 151.9,626.9 152.6,626.9 153.3,626.9 154.0,627.0 154.7,627.0 155.4,627.0 156.1,627.0 156.7,627.1 157.4,627.1 158.1,627.1 158.8,627.1 159.5,627.1 160.2,627.2 160.9,627.2 161.6,627.2 162.3,627.2 163.0,627.3 163.7,627.3 164.3,627.3 165.0,627.3 165.7,627.4 166.4,627.4 167.1,627.4 167.8,627.4 168.5,627.4 169.2,627.5 169.9,627.5 170.6,627.5 171.3,627.5 171.9,627.5 172.6,627.6 173.3,627.6 174.0,627.6 174.7,627.6 175.4,627.6 176.1,627.7 176.8,627.7 177.5,627.7 178.2,627.7 178.9,627.7 179.5,627.7 180.2,627.7 180.9,627.8 181.6,627.8 182.3,627.8 183.0,627.8 183.7,627.8 184.4,627.8 185.1,627.8 185.8,627.8 186.5,627.8 187.1,627.8 187.8,627.9 188.5,627.9 189.2,627.9 189.9,627.9 190.6,627.9 191.3,627.9 192.0,627.9 192.7,627.9 193.4,627.9 194.0,627.9 194.7,627.9 195.4,627.9 196.1,627.9 196.8,627.9 197.5,627.9 198.2,627.9 198.8,627.9 199.5,627.9 200.2,627.9 200.9,627.9 201.6,627.9 202.3,627.9 203.0,627.9 203.6,627.9 204.3,627.9 205.0,627.9 205.7,627.9 206.4,627.9 207.1,627.9 207.8,627.9 208.4,627.9 209.1,627.9 209.8,627.9 210.5,627.9 211.2,627.9 211.8,627.8 212.5,627.8 213.2,627.8 213.9,627.8 214.5,627.7 215.2,627.7 215.9,627.6 216.6,627.6 217.3,627.5 217.9,627.5 218.6,627.4 219.3,627.3 220.0,627.3 220.6,627.2 221.3,627.1 222.0,627.0 222.7,627.0 223.3,626.9 224.0,626.8 224.7,626.7 225.4,626.6 226.1,626.5 226.7,626.4 227.4,626.4 228.1,626.3 228.8,626.2 229.5,626.0 230.1,625.9 230.8,625.8 231.5,625.6 232.2,625.4 232.9,625.3 233.5,625.1 234.2,624.9 234.9,624.7 235.6,624.6 236.3,624.4 237.0,624.2 237.6,624.0 238.3,623.8 239.0,623.7 239.7,623.5 240.4,623.4 241.0,623.2 241.7,623.1 242.3,622.9 243.0,622.8 243.6,622.7 244.3,622.5 244.9,622.4 245.6,622.3 246.2,622.1 246.9,622.0 247.5,621.8 248.2,621.7 248.9,621.5 249.6,621.4 250.3,621.2 251.0,621.1 251.7,620.9 252.4,620.7 253.1,620.6 253.8,620.5 254.5,620.3 255.2,620.2 255.9,620.1 256.6,620.0 257.3,619.9 258.0,619.7 258.7,619.6 259.3,619.5 260.0,619.4 260.7,619.3 261.4,619.2 262.1,619.1 262.8,619.0 263.5,619.0 264.2,618.9 264.9,618.9 265.6,618.8 266.3,618.8 267.0,618.8 267.6,618.9 268.3,618.9 269.0,618.9 269.7,618.9 270.4,619.0 271.0,619.0 271.7,619.0 272.4,619.1 273.1,619.1 273.7,619.2 274.4,619.2 275.1,619.3 275.8,619.4 276.4,619.4 277.1,619.5 277.8,619.6 278.5,619.6 279.1,619.7 279.8,619.7 280.5,619.8 281.2,619.9 281.9,619.9 282.5,620.0 283.2,620.0 283.9,620.1 284.6,620.1 285.2,620.1 285.9,620.2 286.6,620.2 287.3,620.3 287.9,620.3 288.6,620.4 289.3,620.5 290.0,620.5 290.6,620.6 291.3,620.6 292.0,620.7 292.7,620.7 293.4,620.8 294.0,620.8 294.7,620.9 295.4,620.9 296.1,620.9 296.7,621.0 297.4,621.0 298.1,621.0 298.8,621.1 299.4,621.1 300.1,621.1 300.8,621.1 301.5,621.1 302.1,621.0 302.8,620.9 303.4,620.6 304.1,620.2 304.7,619.8 305.3,618.4 305.9,616.1 306.5,613.8 307.0,612.8 307.6,613.6 308.2,615.4 308.8,617.4 309.3,618.6 310.0,619.2 310.7,619.7 311.4,620.0 312.1,620.3 312.8,620.7 313.5,621.0 314.1,621.3 314.8,621.6 315.5,621.9 316.1,622.1 316.8,622.3 317.5,622.5 318.1,622.6 318.8,622.7 319.5,622.8 320.2,622.9 320.9,622.9 321.6,623.0 322.3,623.1 323.0,623.2 323.7,623.2 324.4,623.3 325.1,623.4 325.8,623.4 326.5,623.5 327.2,623.5 327.9,623.6 328.6,623.6 329.3,623.7 329.9,623.7 330.6,623.8 331.3,623.8 332.0,623.8 332.7,623.9 333.4,623.9 334.1,623.9 334.8,624.0 335.5,624.0 336.2,624.0 336.9,624.0 337.6,624.0 338.3,624.0 339.0,624.0 339.7,624.0 340.4,624.0 341.1,624.0 341.8,624.0 342.4,623.9 343.1,623.8 343.8,623.7 344.5,623.6 345.2,623.5 345.9,623.4 346.6,623.2 347.3,623.1 348.0,623.0 348.7,622.8 349.4,622.7 350.1,622.6 350.8,622.5 351.5,622.5 352.2,622.4 352.9,622.4 353.5,622.4 354.2,622.5 354.9,622.5 355.5,622.5 356.2,622.6 356.9,622.6 357.6,622.7 358.2,622.7 358.9,622.8 359.6,622.9 360.2,622.9 360.9,623.0 361.6,623.0 362.2,623.1 362.9,623.1 363.6,623.2 364.3,623.2 364.9,623.2 365.6,623.2 366.3,623.2 367.0,623.1 367.7,623.0 368.4,622.8 369.1,622.5 369.8,622.2 370.5,621.8 371.1,621.4 371.8,620.9 372.5,620.0 373.2,618.1 373.9,615.6 374.6,612.2 375.3,605.2 375.9,594.8 376.5,587.0 377.1,583.6 377.6,581.1 378.2,578.5 378.9,574.4 379.5,569.9 380.1,566.2 380.8,564.7 381.5,565.5 382.1,567.6 382.8,570.6 383.5,574.0 384.1,577.2 384.8,579.9 385.4,582.3 386.1,584.9 386.8,587.4 387.4,589.6 388.1,591.1 388.7,591.7 389.4,591.0 390.0,589.0 390.7,585.9 391.3,581.9 392.0,577.2 392.7,567.2 393.3,551.6 394.0,536.3 394.6,520.9 395.3,511.9 395.9,518.4 396.5,530.0 397.0,539.9 397.5,550.5 398.0,558.7 398.7,565.8 399.3,571.9 400.0,577.1 400.7,581.5 401.3,585.4 402.0,589.0 402.6,592.4 403.3,595.9 403.9,599.2 404.6,602.3 405.2,605.0 405.9,607.0 406.6,608.4 407.2,608.9 407.9,607.9 408.5,605.6 409.2,602.9 409.8,600.6 410.5,599.6 411.2,601.1 411.8,604.7 412.5,609.1 413.1,613.1 413.8,615.5 414.5,616.6 415.1,617.5 415.8,618.3 416.5,618.9 417.1,619.3 417.8,619.4 418.5,619.3 419.1,618.9 419.8,618.3 420.4,617.6 421.1,616.8 421.8,616.0 422.4,615.3 423.1,614.7 423.7,614.3 424.4,614.2 425.1,614.4 425.7,614.9 426.4,615.8 427.0,616.8 427.7,618.0 428.4,619.2 429.0,620.5 429.7,621.7 430.3,622.8 431.0,623.7 431.6,624.4 432.3,624.7 433.0,624.8 433.7,625.0 434.4,625.1 435.1,625.2 435.8,625.3 436.5,625.3 437.2,625.4 437.9,625.5 438.6,625.5 439.3,625.6 440.0,625.7 440.7,625.7 441.4,625.8 442.1,625.8 442.8,625.9 443.5,625.9 444.2,626.0 444.9,626.1 445.6,626.1 446.3,626.2 447.0,626.3 447.7,626.4 448.4,626.5 449.1,626.6 449.7,626.7 450.4,626.7 451.1,626.8 451.8,626.9 452.5,627.0 453.2,627.1 453.9,627.2 454.6,627.3 455.3,627.3 456.0,627.4 456.7,627.5 457.4,627.6 458.1,627.6 458.8,627.7 459.5,627.8 460.1,627.8 460.8,627.9 461.5,627.9 462.2,627.9 462.9,628.0 463.6,628.0 464.3,628.0 465.0,628.0 465.7,628.0 466.4,628.0 467.1,628.0 467.8,628.0 468.5,628.0 469.2,627.9 469.9,627.9 470.6,627.9 471.3,627.9 472.0,627.9 472.7,627.8 473.4,627.8 474.1,627.8 474.8,627.7 475.5,627.7 476.2,627.7 476.9,627.6 477.6,627.6 478.3,627.6 479.0,627.5 479.7,627.5 480.4,627.4 481.1,627.4 481.8,627.4 482.5,627.3 483.2,627.3 483.9,627.2 484.6,627.2 485.3,627.1 486.0,627.1 486.7,627.1 487.4,627.0 488.1,627.0 488.8,626.9 489.5,626.9 490.2,626.9 490.9,626.8 491.6,626.8 492.3,626.8 493.0,626.7 493.7,626.7 494.4,626.7 495.1,626.6 495.8,626.6 496.5,626.6 497.2,626.6 497.9,626.5 498.6,626.5 499.3,626.5 500.0,626.5 500.7,626.5 501.4,626.5 502.1,626.5 502.8,626.5 503.5,626.5 504.2,626.4 504.9,626.4 505.6,626.4 506.3,626.4 507.0,626.4 507.7,626.4 508.4,626.4 509.1,626.4 509.8,626.4 510.5,626.4 511.2,626.4 511.9,626.4 512.6,626.4 513.3,626.4 514.0,626.3 514.7,626.3 515.3,626.3 516.0,626.3 516.7,626.3 517.4,626.3 518.1,626.3 518.8,626.3 519.5,626.3 520.2,626.3 520.9,626.3 521.6,626.3 522.3,626.3 523.0,626.3 523.7,626.3 524.4,626.3 525.1,626.3 525.8,626.3 526.5,626.3 527.2,626.3 527.9,626.3 528.6,626.3 529.3,626.3 530.0,626.2 530.7,626.2 531.4,626.2 532.1,626.2 532.8,626.2 533.5,626.2 534.2,626.2 534.9,626.2 535.6,626.2 536.3,626.2 537.0,626.2 537.7,626.2 538.4,626.2 539.1,626.2 539.8,626.2 540.5,626.2 541.2,626.2 541.9,626.2 542.6,626.2 543.3,626.2 544.0,626.2 544.7,626.2 545.3,626.2 546.0,626.2 546.7,626.1 547.4,626.1 548.1,626.1 548.8,626.1 549.5,626.1 550.2,626.1 550.9,626.1 551.6,626.1 552.3,626.1 553.0,626.1 553.7,626.1 554.4,626.1 555.1,626.1 555.8,626.1 556.5,626.0 557.2,626.0 557.9,626.0 558.6,626.0 559.3,626.0 560.0,626.0 560.7,626.0 561.4,626.0 562.1,626.0 562.8,626.0 563.5,625.9 564.2,625.9 564.9,625.9 565.6,625.9 566.3,625.9 567.0,625.9 567.7,625.9 568.4,625.9 569.1,625.8 569.8,625.8 570.5,625.8 571.2,625.8 571.9,625.8 572.6,625.8 573.3,625.7 574.0,625.7 574.7,625.7 575.4,625.7 576.1,625.7 576.8,625.6 577.5,625.6 578.2,625.6 578.9,625.6 579.6,625.5 580.3,625.5 581.0,625.5 581.7,625.4 582.4,625.4 583.1,625.4 583.8,625.3 584.5,625.3 585.2,625.3 585.9,625.2 586.6,625.2 587.3,625.1 588.0,625.1 588.7,625.0 589.4,625.0 590.1,624.9 590.8,624.9 591.5,624.8 592.2,624.8 592.9,624.7 593.6,624.6 594.3,624.6 595.0,624.5 595.7,624.4 596.3,624.1 597.0,623.7 597.7,623.2 598.3,622.7 599.0,622.1 599.7,621.6 600.3,621.0 601.0,620.6 601.7,620.2 602.3,620.0 603.0,619.9 603.7,620.0 604.3,620.2 605.0,620.6 605.7,621.1 606.3,621.6 607.0,622.2 607.7,622.8 608.3,623.3 609.0,623.8 609.7,624.2 610.3,624.4 611.0,624.5 611.7,624.5 612.4,624.5 613.1,624.5 613.8,624.5 614.5,624.5 615.2,624.5 615.9,624.5 616.6,624.5 617.3,624.5 618.0,624.5 618.7,624.4 619.4,624.4 620.1,624.4 620.8,624.4 621.4,624.4 622.1,624.4 622.8,624.4 623.5,624.4 624.2,624.4 624.9,624.4 625.6,624.3 626.3,624.3 627.0,624.3 627.7,624.3 628.4,624.3 629.1,624.3 629.8,624.3 630.5,624.2 631.2,624.2 631.9,624.2 632.6,624.2 633.3,624.2 634.0,624.2 634.7,624.2 635.4,624.2 636.1,624.1 636.8,624.1 637.5,624.1 638.2,624.1 638.9,624.1 639.6,624.1 640.2,624.1 640.9,624.1 641.6,624.1 642.3,624.1 643.0,624.0 643.7,624.0 644.4,624.0 645.1,624.0 645.8,624.0 646.5,624.0 647.2,624.0 647.9,624.0 648.6,624.0 649.3,624.0 650.0,624.0 650.7,624.0 651.4,624.0 652.1,624.0 652.8,624.0 653.5,624.0 654.2,624.0 654.9,624.0 655.6,624.0 656.2,624.0 656.9,624.0 657.6,624.0 658.3,624.0 659.0,624.0 659.7,624.0 660.4,624.0 661.1,624.0 661.8,624.0 662.5,624.0 663.2,623.9 663.9,623.7 664.5,623.4 665.2,623.0 665.9,622.6 666.6,622.2 667.3,621.8 668.0,621.4 668.6,621.1 669.3,620.9 670.0,620.8 670.6,621.0 671.2,621.5 671.9,622.2 672.5,623.0 673.1,623.8 673.8,624.5 674.4,625.0 675.0,625.2 675.6,625.2 676.2,625.1 676.9,625.1 677.5,625.0 678.1,624.9 678.8,624.8 679.4,624.7 680.0,624.7 680.7,624.7 681.3,624.6 682.0,624.6 682.7,624.6 683.3,624.6 684.0,624.6 684.7,624.6 685.3,624.5 686.0,624.5 686.7,624.1 687.4,623.1 688.0,621.6 688.7,620.0 689.4,618.4 690.0,617.0 690.7,616.0 691.4,615.6 692.0,616.2 692.7,617.8 693.3,619.9 693.9,622.1 694.6,623.8 695.2,624.7 695.9,625.0 696.6,625.2 697.3,625.5 698.0,625.7 698.7,625.8 699.3,626.0 700.0,626.1 700.7,626.2 701.4,626.2 702.1,626.3 702.8,626.3 703.5,626.2 704.2,626.0 704.9,625.7 705.6,625.4 706.3,625.0 706.9,624.5 707.6,624.1 708.3,623.8 709.0,623.5 709.7,623.3 710.4,623.2 711.1,623.3 711.8,623.5 712.5,623.8 713.2,624.1 713.9,624.5 714.5,625.0 715.2,625.4 715.9,625.7 716.6,626.0 717.3,626.2 718.0,626.3 718.7,626.2 719.4,626.1 720.0,625.8 720.7,625.3 721.4,624.8 722.1,624.3 722.8,623.6 723.5,622.8 724.1,622.0 724.8,621.1 725.5,620.2 726.2,618.6 726.9,615.8 727.5,612.4 728.2,608.6 728.9,605.0 729.5,601.9 730.2,599.7 730.9,598.9 731.5,600.5 732.1,604.4 732.8,609.5 733.4,614.7 734.0,618.6 734.6,620.2 735.3,619.9 735.9,619.3 736.6,618.4 737.2,617.4 737.9,616.5 738.5,615.9 739.2,615.6 739.9,616.0 740.5,617.1 741.2,618.6 741.8,620.2 742.5,621.7 743.1,622.8 743.8,623.2 744.5,622.8 745.2,621.6 745.8,619.9 746.5,617.7 747.2,615.3 747.9,612.9 748.6,610.5 749.3,608.3 749.9,606.6 750.6,605.4 751.3,605.0 752.0,605.9 752.6,608.3 753.3,611.6 753.9,615.2 754.6,618.8 755.2,621.6 755.9,623.2 756.6,624.0 757.3,624.8 758.0,625.4 758.6,625.8 759.3,626.2 760.0,626.3 760.7,626.3 761.3,626.4 762.0,626.4 762.7,626.4 763.3,626.4 764.0,626.4 764.7,626.4 765.3,626.5 766.0,626.5 766.7,626.5 767.3,626.5 768.0,626.5 768.7,626.5 769.3,626.5 770.0,626.5 770.6,626.1 771.3,625.2 772.0,624.4 772.6,624.0 773.3,624.0 774.0,624.2 774.7,624.3 775.4,624.5 776.0,624.8 776.7,625.0 777.4,625.1 778.1,625.3 778.8,625.3 779.4,624.7 780.0,623.2 780.7,620.8 781.3,617.7 781.8,613.7 782.3,606.4 782.8,595.0 783.2,566.2 783.6,530.0 784.0,502.0 784.4,487.0 784.8,493.4 785.3,505.0 785.8,515.3 786.2,530.0 786.8,580.0 787.3,587.6 787.8,592.3 788.4,595.2 788.9,597.7 789.5,600.8 790.1,603.7 790.8,606.3 791.4,608.3 792.0,609.7 792.6,610.2 793.2,610.2 793.9,610.2 794.5,610.2 795.1,610.2 795.8,610.2 796.4,610.2 797.1,610.2 797.8,610.0 798.4,609.8 799.1,609.6 799.8,609.2 800.5,608.7 801.1,608.2 801.8,607.5 802.5,606.8 803.2,605.9 803.8,605.0 804.5,603.9 805.2,602.7 805.9,599.1 806.6,592.1 807.3,583.4 808.0,575.0 808.6,567.9 809.2,560.4 809.9,552.4 810.5,544.0 811.1,534.8 811.8,524.8 812.4,514.6 813.0,505.0 813.6,496.6 814.2,488.6 814.8,480.0 815.4,471.2 816.0,460.0 816.5,444.1 817.0,423.0 817.4,404.5 817.8,380.0 818.1,343.2 818.5,300.0 819.1,236.0 819.8,300.0 820.1,342.4 820.5,380.0 820.9,404.5 821.3,423.0 821.8,444.1 822.3,460.0 822.9,471.0 823.5,480.0 824.0,488.4 824.5,496.8 825.0,505.0 825.6,515.3 826.2,525.7 826.9,535.4 827.5,544.0 828.2,552.2 828.8,559.5 829.5,565.0 830.1,568.9 830.8,572.0 831.4,574.0 832.0,575.3 832.6,576.3 833.2,577.2 833.8,577.8 834.4,578.0 835.0,577.8 835.6,577.4 836.2,576.8 836.8,575.9 837.4,575.0 838.0,573.5 838.6,571.2 839.3,568.3 839.9,565.2 840.5,562.0 841.1,558.9 841.7,555.5 842.2,551.8 842.8,548.0 843.4,544.0 844.0,539.3 844.6,533.9 845.2,528.4 845.9,523.0 846.5,518.3 847.1,514.5 847.8,511.8 848.4,509.8 849.0,508.2 849.7,506.3 850.4,503.8 851.0,500.0 851.6,491.0 852.2,474.6 852.8,454.3 853.4,433.4 854.0,411.1 854.5,390.0 855.1,372.2 855.8,357.3 856.4,348.5 857.1,344.3 857.7,341.3 858.4,339.2 859.0,337.6 859.7,336.0 860.4,334.1 861.0,331.3 861.7,327.3 862.4,316.7 863.0,299.6 863.6,283.6 864.3,276.5 865.0,278.3 865.6,282.8 866.3,289.0 867.0,295.7 867.6,302.6 868.3,311.2 869.0,321.9 869.6,335.3 870.3,362.0 871.0,390.0 871.5,401.9 872.0,411.5 872.5,420.0 873.1,428.6 873.6,436.2 874.2,443.5 874.8,451.2 875.4,459.6 876.0,468.3 876.6,478.0 877.2,491.2 877.8,505.8 878.4,515.0 879.0,518.4 879.6,520.7 880.1,522.5 880.7,524.3 881.3,526.7 882.0,530.4 882.6,534.7 883.3,539.4 884.0,544.3 884.7,549.3 885.4,554.1 886.0,558.5 886.7,562.4 887.3,565.8 888.0,569.2 888.6,572.5 889.3,575.7 889.9,578.8 890.6,581.7 891.2,584.5 891.9,587.0 892.5,589.2 893.2,591.1 893.8,592.7 894.5,594.1 895.2,595.5 895.9,596.8 896.5,598.0 897.2,599.2 897.9,600.2 898.6,601.2 899.3,602.1 900.0,602.9 900.6,603.6 901.3,604.2 902.0,604.8 902.7,605.2 903.4,605.5 904.0,605.9 904.7,606.1 905.3,606.4 906.0,606.6 906.6,606.8 907.3,607.0 907.9,607.2 908.6,607.4 909.2,607.6 909.9,607.8 910.5,608.0 911.2,608.2 911.8,608.4 912.5,608.7 913.1,608.9 913.8,609.1 914.4,609.2 915.1,609.4 915.7,609.5 916.4,609.6 917.0,609.6 917.6,609.3 918.2,608.5 918.8,607.3 919.4,605.9 920.0,604.6 920.6,603.4 920.6,627.5 932.0,627.5" fill="none" stroke="#0000ff" stroke-width="3.8" stroke-linejoin="round" stroke-linecap="round" />
</g>
<line x1="145.00" y1="51.00" x2="932.00" y2="51.00" stroke="#000" stroke-width="1.8" />
<line x1="932.00" y1="51.00" x2="932.00" y2="629.60" stroke="#000" stroke-width="1.6" />
<line x1="145.00" y1="629.60" x2="932.00" y2="629.60" stroke="#000" stroke-width="1.8" />
<line x1="145.00" y1="50.10" x2="145.00" y2="630.50" stroke="#000" stroke-width="2.0" />
<line x1="133.00" y1="629.60" x2="145.00" y2="629.60" stroke="#000" stroke-width="1.8" />
<text x="124.5" y="640.1" font-size="36" text-anchor="end" font-weight="normal" fill="#000" font-family='"Liberation Serif", serif' >0.0</text>
<line x1="139.00" y1="571.74" x2="145.00" y2="571.74" stroke="#000" stroke-width="1.8" />
<line x1="133.00" y1="513.88" x2="145.00" y2="513.88" stroke="#000" stroke-width="1.8" />
<text x="124.5" y="524.38" font-size="36" text-anchor="end" font-weight="normal" fill="#000" font-family='"Liberation Serif", serif' >0.2</text>
<line x1="139.00" y1="456.02" x2="145.00" y2="456.02" stroke="#000" stroke-width="1.8" />
<line x1="133.00" y1="398.16" x2="145.00" y2="398.16" stroke="#000" stroke-width="1.8" />
<text x="124.5" y="408.65999999999997" font-size="36" text-anchor="end" font-weight="normal" fill="#000" font-family='"Liberation Serif", serif' >0.4</text>
<line x1="139.00" y1="340.30" x2="145.00" y2="340.30" stroke="#000" stroke-width="1.8" />
<line x1="133.00" y1="282.44" x2="145.00" y2="282.44" stroke="#000" stroke-width="1.8" />
<text x="124.5" y="292.94" font-size="36" text-anchor="end" font-weight="normal" fill="#000" font-family='"Liberation Serif", serif' >0.6</text>
<line x1="139.00" y1="224.58" x2="145.00" y2="224.58" stroke="#000" stroke-width="1.8" />
<line x1="133.00" y1="166.72" x2="145.00" y2="166.72" stroke="#000" stroke-width="1.8" />
<text x="124.5" y="177.21999999999997" font-size="36" text-anchor="end" font-weight="normal" fill="#000" font-family='"Liberation Serif", serif' >0.8</text>
<line x1="139.00" y1="108.86" x2="145.00" y2="108.86" stroke="#000" stroke-width="1.8" />
<line x1="133.00" y1="51.00" x2="145.00" y2="51.00" stroke="#000" stroke-width="1.8" />
<text x="124.5" y="61.5" font-size="36" text-anchor="end" font-weight="normal" fill="#000" font-family='"Liberation Serif", serif' >1.0</text>
<line x1="145.00" y1="629.60" x2="145.00" y2="641.60" stroke="#000" stroke-width="1.8" />
<text x="145.0" y="677" font-size="36" text-anchor="middle" font-weight="normal" fill="#000" font-family='"Liberation Serif", serif' >4000</text>
<line x1="260.74" y1="629.60" x2="260.74" y2="636.60" stroke="#000" stroke-width="1.8" />
<line x1="376.47" y1="629.60" x2="376.47" y2="641.60" stroke="#000" stroke-width="1.8" />
<text x="376.47058823529414" y="677" font-size="36" text-anchor="middle" font-weight="normal" fill="#000" font-family='"Liberation Serif", serif' >3000</text>
<line x1="492.21" y1="629.60" x2="492.21" y2="636.60" stroke="#000" stroke-width="1.8" />
<line x1="607.94" y1="629.60" x2="607.94" y2="641.60" stroke="#000" stroke-width="1.8" />
<text x="607.9411764705883" y="677" font-size="36" text-anchor="middle" font-weight="normal" fill="#000" font-family='"Liberation Serif", serif' >2000</text>
<line x1="723.68" y1="629.60" x2="723.68" y2="636.60" stroke="#000" stroke-width="1.8" />
<line x1="839.41" y1="629.60" x2="839.41" y2="641.60" stroke="#000" stroke-width="1.8" />
<text x="839.4117647058823" y="677" font-size="36" text-anchor="middle" font-weight="normal" fill="#000" font-family='"Liberation Serif", serif' >1000</text>
<text x="540.0" y="747" font-size="39.6" text-anchor="middle" font-weight="normal" fill="#000" font-family='"Liberation Serif", serif' >Wavenumber (cm<tspan dy="-18" font-size="24">-1</tspan><tspan dy="18">)</tspan></text>
<text transform="translate(28.3,353.5) rotate(-90)" font-size="39" text-anchor="middle" font-family='"Liberation Serif", serif'>Absorbance (a.u.)</text>
<text x="0" y="24" font-size="29" text-anchor="start" font-weight="bold" fill="#000" font-family='"Liberation Sans", sans-serif' >A</text>
<text x="944" y="24" font-size="29" text-anchor="start" font-weight="bold" fill="#000" font-family='"Liberation Sans", sans-serif' >B</text>
<text x="944.5" y="416.8" font-size="29" text-anchor="start" font-weight="bold" fill="#000" font-family='"Liberation Sans", sans-serif' >C</text>
<line x1="153.20" y1="62.60" x2="196.50" y2="62.60" stroke="#000000" stroke-width="3.3" />
<text x="200.5" y="70.1" font-size="17" text-anchor="start" font-weight="normal" fill="#000" font-family='"Liberation Serif", serif' letter-spacing="0.6">POM-V</text>
<line x1="153.20" y1="85.50" x2="196.50" y2="85.50" stroke="#ff0000" stroke-width="3.3" />
<text x="200.5" y="93.0" font-size="17" text-anchor="start" font-weight="normal" fill="#000" font-family='"Liberation Serif", serif' letter-spacing="0.6">POM-Su, 3 years</text>
<line x1="153.20" y1="108.40" x2="196.50" y2="108.40" stroke="#800000" stroke-width="3.3" />
<text x="200.5" y="115.9" font-size="17" text-anchor="start" font-weight="normal" fill="#000" font-family='"Liberation Serif", serif' letter-spacing="0.6">POM-O50, 3.5 years</text>
<line x1="153.20" y1="131.30" x2="196.50" y2="131.30" stroke="#ff80ff" stroke-width="3.3" />
<text x="200.5" y="138.79999999999998" font-size="17" text-anchor="start" font-weight="normal" fill="#000" font-family='"Liberation Serif", serif' letter-spacing="0.6">POM-U, 1 year</text>
<line x1="153.20" y1="154.20" x2="196.50" y2="154.20" stroke="#0000ff" stroke-width="3.3" />
<text x="200.5" y="161.7" font-size="17" text-anchor="start" font-weight="normal" fill="#000" font-family='"Liberation Serif", serif' letter-spacing="0.6">POM-SWUNa, 3 years</text>
<g clip-path="url(#clipI)">
<polyline points="441.2,273.1 441.9,273.1 442.6,273.1 443.3,273.1 444.0,273.1 444.7,273.1 445.4,273.1 446.1,273.1 446.8,273.1 447.5,273.1 448.2,273.1 448.9,273.1 449.6,273.1 450.3,273.1 451.0,273.1 451.7,273.1 452.4,273.1 453.1,273.1 453.8,273.1 454.5,273.1 455.2,273.1 455.9,273.1 456.6,273.1 457.3,273.1 458.0,273.1 458.7,273.1 459.4,273.1 460.0,273.1 460.7,273.1 461.4,273.1 462.1,273.1 462.8,273.1 463.5,273.1 464.2,273.1 464.9,273.1 465.6,273.1 466.3,273.1 467.0,273.1 467.7,273.1 468.4,273.1 469.1,273.1 469.8,273.1 470.5,273.1 471.2,273.1 471.9,273.1 472.6,273.1 473.3,273.1 474.0,273.1 474.7,273.1 475.4,273.1 476.1,273.1 476.8,273.1 477.5,273.1 478.2,273.1 478.9,273.1 479.6,273.1 480.3,273.0 481.0,273.0 481.7,273.0 482.4,273.0 483.1,273.0 483.8,272.9 484.5,272.9 485.2,272.9 485.9,272.8 486.6,272.8 487.3,272.8 488.0,272.7 488.7,272.7 489.4,272.6 490.1,272.6 490.8,272.5 491.5,272.5 492.2,272.4 492.9,272.4 493.6,272.3 494.3,272.3 495.0,272.2 495.6,272.2 496.3,272.1 497.0,272.1 497.7,272.0 498.4,272.0 499.1,271.9 499.8,271.8 500.5,271.8 501.2,271.7 501.9,271.7 502.6,271.6 503.3,271.6 504.0,271.5 504.7,271.5 505.4,271.4 506.1,271.4 506.8,271.3 507.5,271.3 508.2,271.2 508.9,271.2 509.6,271.1 510.3,271.1 511.0,271.1 511.7,271.0 512.4,271.0 513.1,271.0 513.8,270.9 514.5,270.9 515.2,270.9 515.9,270.9 516.6,270.8 517.3,270.8 518.0,270.8 518.7,270.8 519.4,270.8 520.1,270.7 520.8,270.7 521.5,270.7 522.2,270.7 522.9,270.7 523.6,270.7 524.3,270.6 525.0,270.6 525.7,270.6 526.4,270.6 527.0,270.6 527.7,270.6 528.4,270.5 529.1,270.5 529.8,270.5 530.5,270.5 531.2,270.5 531.9,270.5 532.6,270.4 533.3,270.4 534.0,270.4 534.7,270.4 535.4,270.3 536.1,270.3 536.8,270.3 537.5,270.3 538.2,270.2 538.9,270.2 539.6,270.2 540.3,270.2 541.0,270.1 541.7,270.1 542.3,270.1 543.0,270.1 543.7,270.0 544.4,270.0 545.1,270.0 545.7,270.0 546.4,269.9 547.1,269.9 547.8,269.9 548.5,269.8 549.1,269.8 549.8,269.7 550.5,269.7 551.2,269.6 551.9,269.5 552.6,269.4 553.2,269.4 553.9,269.3 554.6,269.1 555.3,269.0 556.0,268.9 556.6,268.7 557.2,267.9 557.7,266.0 558.3,263.5 558.8,261.0 559.4,257.8 559.9,253.9 560.4,250.6 561.0,249.1 561.5,250.6 562.1,254.0 562.6,257.9 563.2,261.0 563.8,263.6 564.4,266.1 565.1,267.9 565.7,268.7 566.4,268.8 567.0,268.9 567.7,269.0 568.3,269.1 569.0,269.1 569.6,269.2 570.3,269.2 570.9,269.2 571.6,269.2 572.2,269.2 572.9,269.1 573.6,268.6 574.3,267.8 575.0,266.7 575.6,265.5 576.3,264.1 577.0,262.6 577.7,261.0 578.2,258.9 578.8,255.8 579.3,253.1 579.9,252.0 580.5,253.4 581.1,256.7 581.8,260.3 582.4,262.4 583.1,263.3 583.7,264.1 584.4,264.8 585.1,265.3 585.7,265.6 586.4,265.7 587.0,265.7 587.7,265.7 588.3,265.7 589.0,265.7 589.6,265.7 590.3,265.7 590.9,265.7 591.6,265.7 592.2,265.7 592.9,265.6 593.5,265.5 594.2,265.3 594.9,265.0 595.6,264.7 596.2,264.3 596.9,263.9 597.6,263.4 598.2,262.8 598.9,262.2 599.6,261.6 600.2,261.0 600.9,260.3 601.6,259.7 602.2,259.0 602.9,258.3 603.6,257.6 604.2,257.0 604.9,256.3 605.6,255.6 606.3,254.8 607.0,253.9 607.7,253.0 608.4,252.1 609.1,251.1 609.8,250.1 610.5,249.1 611.2,248.1 611.9,247.1 612.6,246.1 613.3,245.2 613.9,244.4 614.5,243.8 615.1,243.2 615.8,242.6 616.4,241.8 617.0,240.8 617.6,239.6 618.2,237.1 618.8,232.8 619.4,227.7 619.9,222.6 620.5,218.4 621.1,214.6 621.7,210.7 622.3,207.1 622.8,204.5 623.4,203.6 624.0,204.1 624.6,205.3 625.2,207.2 625.7,209.2 626.3,211.3 627.0,213.8 627.6,216.8 628.2,219.9 628.9,222.9 629.5,226.0 630.2,229.3 630.8,232.8 631.5,236.2 632.1,239.4 632.7,242.5 633.4,245.1 634.0,247.3 634.7,248.9 635.4,250.1 636.0,251.3 636.7,252.4 637.4,253.4 638.1,254.2 638.8,254.9 639.4,255.3 640.1,255.4 640.7,255.4 641.3,255.4 641.9,255.4 642.4,255.3 643.0,255.3 643.7,255.3 644.4,255.2 645.1,255.0 645.8,254.8 646.5,254.6 647.2,254.3 647.9,254.0 648.6,253.7 649.3,253.4 650.0,253.1 650.7,252.7 651.4,252.3 652.1,252.0 652.8,251.6 653.4,251.3 654.1,250.9 654.8,250.6 655.5,250.3 656.2,250.1 656.9,249.8 657.6,249.6 658.3,249.5 659.0,249.4 659.7,249.3 660.3,249.2 661.0,249.1 661.7,249.1 662.3,249.0 663.0,249.0 663.7,249.0 664.3,248.9 665.0,248.9 665.7,248.8 666.3,248.8 667.0,248.8 667.7,248.7 668.3,248.7 669.0,248.6 669.6,248.5 670.3,248.5 671.0,248.4 671.7,248.2 672.3,247.9 673.0,247.6 673.7,247.2 674.4,246.6 675.0,246.1 675.7,245.4 676.4,244.8 677.1,244.1 677.7,243.4 678.4,242.7 679.1,241.9 679.8,241.3 680.5,240.6 681.1,239.9 681.8,239.4 682.5,238.8 683.2,238.4 683.8,238.0 684.5,237.7 685.2,237.6 685.9,237.5 686.5,237.6 687.2,237.7 687.9,238.0 688.5,238.4 689.2,238.8 689.9,239.3 690.5,239.9 691.2,240.6 691.9,241.2 692.5,242.0 693.2,242.7 693.9,243.5 694.6,244.2 695.2,245.0 695.9,245.7 696.6,246.4 697.2,247.1 697.9,247.8 698.6,248.4 699.2,248.9 699.9,249.5 700.6,250.2 701.2,250.8 701.9,251.5 702.6,252.1 703.2,252.8 703.9,253.4 704.6,254.1 705.2,254.7 705.9,255.3 706.6,255.9 707.2,256.4 707.9,256.9 708.5,257.3 709.2,257.7 709.9,258.0 710.5,258.2 711.2,258.4 711.9,258.6 712.5,258.8 713.2,259.0 713.8,259.2 714.5,259.4 715.1,259.5 715.8,259.7 716.4,259.8 717.1,259.9 717.7,260.0 718.4,260.1 719.0,260.2 719.7,260.2 720.3,260.2 721.0,259.9 721.7,259.0 722.4,257.5 723.0,255.6 723.7,253.3 724.4,250.5 725.0,247.5 725.7,244.2 726.4,240.8 727.0,237.2 727.7,233.5 728.4,229.8 729.0,226.1 729.7,222.5 730.4,219.1 731.0,215.9 731.7,213.0" fill="none" stroke="#000000" stroke-width="1.6" stroke-linejoin="round" stroke-linecap="round" />
<polyline points="441.2,272.4 441.9,272.4 442.6,272.4 443.3,272.4 444.0,272.4 444.7,272.4 445.4,272.4 446.1,272.4 446.8,272.4 447.5,272.4 448.2,272.4 448.9,272.4 449.6,272.4 450.3,272.4 451.0,272.4 451.7,272.4 452.4,272.4 453.1,272.4 453.8,272.4 454.5,272.4 455.2,272.4 455.9,272.4 456.6,272.4 457.3,272.4 458.0,272.4 458.7,272.4 459.4,272.4 460.0,272.4 460.7,272.4 461.4,272.4 462.1,272.4 462.8,272.4 463.5,272.4 464.2,272.4 464.9,272.4 465.6,272.4 466.3,272.4 467.0,272.4 467.7,272.4 468.4,272.4 469.1,272.4 469.8,272.4 470.5,272.4 471.2,272.4 471.9,272.4 472.6,272.4 473.3,272.4 474.0,272.4 474.7,272.4 475.4,272.4 476.1,272.4 476.8,272.4 477.5,272.4 478.2,272.4 478.9,272.4 479.6,272.4 480.3,272.4 481.0,272.4 481.7,272.4 482.4,272.4 483.1,272.4 483.8,272.4 484.5,272.4 485.2,272.4 485.9,272.4 486.6,272.4 487.2,272.3 487.9,272.2 488.6,272.0 489.2,271.8 489.9,271.5 490.5,271.1 491.2,270.7 491.9,270.3 492.5,269.8 493.2,269.3 493.9,268.8 494.5,268.3 495.2,267.8 495.8,267.2 496.5,266.7 497.2,266.2 497.8,265.7 498.5,265.2 499.2,264.6 499.9,264.0 500.5,263.4 501.2,262.7 501.9,262.1 502.5,261.4 503.2,260.7 503.9,260.0 504.6,259.2 505.2,258.5 505.9,257.8 506.6,257.1 507.3,256.5 507.9,255.8 508.6,255.1 509.3,254.4 510.0,253.8 510.7,253.1 511.3,252.5 512.0,251.8 512.7,251.1 513.4,250.4 514.1,249.8 514.8,249.1 515.4,248.4 516.1,247.6 516.8,246.9 517.5,246.1 518.2,245.4 518.8,244.6 519.5,243.8 520.1,243.0 520.8,242.2 521.5,241.4 522.1,240.5 522.8,239.7 523.5,238.8 524.1,237.9 524.8,237.0 525.4,236.1 526.1,235.2 526.8,234.3 527.4,233.4 528.1,232.5 528.7,231.5 529.4,230.6 530.1,229.6 530.8,228.7 531.5,227.7 532.1,226.7 532.8,225.7 533.5,224.7 534.2,223.7 534.9,222.7 535.5,221.6 536.2,220.6 536.9,219.5 537.6,218.4 538.3,217.3 538.9,216.2 539.6,215.1 540.3,213.9 541.0,212.7 541.7,211.4 542.4,210.0 543.1,208.5 543.8,207.1 544.5,205.6 545.1,204.2 545.8,202.8 546.5,201.5 547.2,200.3 547.9,199.2 548.6,198.2 549.2,197.2 549.9,196.1 550.5,195.1 551.2,194.1 551.8,193.2 552.5,192.5 553.1,191.9 553.8,191.6 554.5,191.4 555.1,191.5 555.7,191.6 556.3,191.8 556.9,192.0 557.6,192.3 558.2,192.6 558.8,192.8 559.5,193.1 560.1,193.5 560.8,193.9 561.5,194.3 562.1,194.7 562.8,195.2 563.4,195.7 564.1,196.1 564.8,196.6 565.4,197.1 566.1,197.6 566.8,198.1 567.4,198.5 568.1,199.0 568.7,199.4 569.4,199.8 570.1,200.1 570.7,200.4 571.4,200.7 572.0,200.9 572.7,201.2 573.4,201.4 574.0,201.6 574.7,201.8 575.3,202.1 576.0,202.3 576.7,202.5 577.3,202.8 578.0,203.0 578.7,203.3 579.4,203.6 580.1,203.8 580.8,204.1 581.4,204.4 582.1,204.6 582.8,204.9 583.5,205.2 584.2,205.5 584.9,205.7 585.6,206.0 586.2,206.3 586.9,206.6 587.6,206.8 588.3,207.1 589.0,207.4 589.7,207.7 590.4,208.0 591.0,208.2 591.7,208.5 592.4,208.8 593.1,209.1 593.8,209.4 594.5,209.7 595.2,209.9 595.8,210.2 596.5,210.5 597.2,210.9 597.9,211.2 598.6,211.6 599.2,211.9 599.9,212.3 600.6,212.7 601.3,213.1 602.0,213.5 602.6,213.9 603.3,214.3 604.0,214.6 604.7,215.0 605.4,215.4 606.0,215.7 606.7,216.0 607.4,216.3 608.1,216.5 608.8,216.8 609.5,217.0 610.1,217.1 610.8,217.2 611.5,217.3 612.2,217.3 612.8,217.3 613.5,217.2 614.2,217.0 614.9,216.9 615.5,216.6 616.2,216.4 616.9,216.1 617.6,215.9 618.2,215.6 618.9,215.4 619.6,215.2 620.3,215.1 620.9,215.0 621.6,214.9 622.3,215.0 622.9,215.3 623.6,215.6 624.3,216.1 624.9,216.8 625.6,217.4 626.2,218.2 626.9,218.9 627.6,219.7 628.2,220.5 628.9,221.3 629.5,222.0 630.2,222.7 630.9,223.2 631.5,223.7 632.2,224.2 632.9,224.7 633.5,225.2 634.2,225.7 634.8,226.2 635.5,226.7 636.2,227.1 636.8,227.6 637.5,228.0 638.1,228.4 638.8,228.8 639.5,229.2 640.1,229.6 640.8,230.0 641.5,230.4 642.2,230.8 642.8,231.1 643.5,231.5 644.2,231.9 644.9,232.2 645.5,232.6 646.2,232.9 646.9,233.2 647.6,233.6 648.2,233.9 648.9,234.2 649.6,234.5 650.3,234.8 650.9,235.1 651.6,235.4 652.3,235.7 653.0,236.0 653.7,236.3 654.3,236.6 655.0,236.9 655.7,237.1 656.4,237.4 657.1,237.7 657.8,238.0 658.4,238.2 659.1,238.5 659.8,238.8 660.5,239.0 661.2,239.3 661.9,239.5 662.6,239.8 663.3,240.0 664.0,240.3 664.6,240.5 665.3,240.8 666.0,241.0 666.7,241.2 667.4,241.5 668.1,241.7 668.8,241.9 669.5,242.1 670.2,242.3 670.8,242.5 671.5,242.7 672.2,242.9 672.9,243.1 673.6,243.3 674.3,243.5 675.0,243.7 675.6,243.8 676.3,244.0 677.0,244.2 677.7,244.4 678.4,244.5 679.0,244.7 679.7,244.9 680.4,245.0 681.1,245.2 681.7,245.3 682.4,245.5 683.1,245.6 683.8,245.8 684.4,245.9 685.1,246.1 685.8,246.2 686.5,246.4 687.1,246.5 687.8,246.6 688.5,246.7 689.2,246.9 689.8,247.0 690.5,247.1 691.2,247.2 691.9,247.3 692.5,247.4 693.2,247.5 693.9,247.6 694.6,247.7 695.3,247.7 696.0,247.8 696.6,247.9 697.3,248.0 698.0,248.0 698.7,248.1 699.4,248.2 700.1,248.3 700.8,248.3 701.5,248.4 702.1,248.5 702.8,248.6 703.5,248.6 704.2,248.7 704.9,248.7 705.6,248.8 706.3,248.9 707.0,248.9 707.7,249.0 708.3,249.0 709.0,249.0 709.7,249.1 710.4,249.1 711.1,249.1 711.8,249.2 712.5,249.2 713.2,249.2 713.9,249.2 714.5,249.2 715.2,249.2 715.9,249.1 716.5,249.0 717.2,248.9 717.9,248.7 718.5,248.5 719.2,248.3 719.9,248.0 720.5,247.8 721.2,247.4 721.9,247.1 722.5,246.7 723.2,246.0 723.8,244.8 724.5,243.0 725.1,240.7 725.8,238.1 726.5,235.2 727.1,232.0 727.8,228.7 728.4,225.2 729.1,221.8 729.7,218.4 730.4,215.1 731.1,212.0 731.7,209.2" fill="none" stroke="#ff0000" stroke-width="1.6" stroke-linejoin="round" stroke-linecap="round" />
<polyline points="441.2,268.8 441.9,269.0 442.5,269.3 443.2,269.5 443.8,269.8 444.5,270.0 445.2,270.3 445.8,270.5 446.5,270.7 447.1,270.8 447.8,270.9 448.5,270.9 449.1,270.9 449.8,270.8 450.4,270.6 451.1,270.3 451.8,270.0 452.4,269.7 453.1,269.5 453.7,269.2 454.4,269.0 455.1,268.9 455.7,268.8 456.4,268.9 457.0,269.0 457.7,269.2 458.4,269.5 459.0,269.7 459.7,270.0 460.3,270.3 461.0,270.6 461.7,270.8 462.3,270.9 463.0,270.9 463.6,270.9 464.3,270.8 465.0,270.7 465.6,270.5 466.3,270.3 466.9,270.1 467.6,269.9 468.3,269.8 468.9,269.6 469.6,269.6 470.2,269.5 470.9,269.6 471.6,269.6 472.2,269.8 472.9,269.9 473.5,270.1 474.2,270.3 474.9,270.5 475.5,270.7 476.2,270.8 476.8,270.9 477.5,270.9 478.2,270.9 478.8,270.8 479.5,270.7 480.1,270.5 480.8,270.3 481.5,270.1 482.1,269.9 482.8,269.8 483.4,269.6 484.1,269.6 484.8,269.5 485.4,269.6 486.1,269.6 486.7,269.8 487.4,269.9 488.1,270.1 488.7,270.3 489.4,270.5 490.0,270.7 490.7,270.8 491.4,270.9 492.0,270.9 492.7,270.9 493.4,270.9 494.1,270.9 494.7,270.9 495.4,270.9 496.1,270.9 496.8,270.8 497.5,270.8 498.1,270.8 498.8,270.7 499.5,270.7 500.2,270.6 500.9,270.6 501.5,270.5 502.2,270.5 502.9,270.4 503.6,270.4 504.3,270.3 505.0,270.2 505.6,270.2 506.3,270.1 507.0,270.1 507.7,270.0 508.4,270.0 509.0,269.9 509.7,269.8 510.4,269.8 511.1,269.7 511.8,269.7 512.4,269.6 513.1,269.6 513.8,269.5 514.5,269.5 515.2,269.4 515.9,269.4 516.6,269.3 517.3,269.3 518.0,269.2 518.7,269.2 519.4,269.1 520.1,269.1 520.8,269.0 521.5,269.0 522.2,268.9 522.9,268.9 523.6,268.8 524.3,268.8 525.0,268.7 525.7,268.7 526.4,268.6 527.0,268.6 527.7,268.5 528.4,268.5 529.1,268.4 529.8,268.4 530.5,268.3 531.2,268.3 531.9,268.2 532.6,268.2 533.3,268.1 534.0,268.1 534.7,268.0 535.4,268.0 536.1,267.9 536.8,267.8 537.5,267.8 538.2,267.7 538.9,267.7 539.6,267.6 540.3,267.5 541.0,267.5 541.7,267.4 542.3,267.4 543.0,267.3 543.7,267.3 544.4,267.3 545.1,267.2 545.7,267.2 546.4,267.1 547.1,267.1 547.8,267.1 548.5,267.0 549.1,267.0 549.8,266.9 550.5,266.8 551.2,266.8 551.9,266.7 552.6,266.6 553.2,266.5 553.9,266.3 554.6,266.2 555.3,266.0 556.0,265.9 556.6,265.7 557.2,264.5 557.7,261.6 558.3,257.9 558.8,253.9 559.4,248.4 559.9,241.2 560.4,235.0 561.0,232.4 561.5,235.1 562.1,241.4 562.6,248.6 563.2,253.9 563.7,257.3 564.3,260.4 564.8,262.7 565.3,263.8 566.0,264.3 566.7,264.6 567.4,264.9 568.1,265.2 568.8,265.4 569.5,265.5 570.1,265.6 570.8,265.7 571.5,265.7 572.2,265.5 572.9,265.0 573.6,264.1 574.3,263.0 574.9,261.6 575.6,260.0 576.3,258.1 577.0,256.1 577.7,253.9 578.2,250.6 578.8,245.5 579.3,240.9 579.9,238.9 580.5,240.9 581.1,245.5 581.8,250.5 582.4,253.9 583.1,255.8 583.7,257.5 584.4,258.8 585.0,259.7 585.7,260.1 586.4,260.1 587.0,260.0 587.7,260.0 588.4,259.9 589.1,259.9 589.7,259.8 590.4,259.6 591.1,259.5 591.8,259.4 592.4,259.2 593.1,259.1 593.8,258.9 594.5,258.7 595.2,258.5 595.8,258.3 596.5,258.0 597.2,257.6 597.9,257.0 598.6,256.3 599.3,255.6 600.0,254.7 600.7,253.8 601.4,252.8 602.1,251.7 602.8,250.6 603.5,249.5 604.2,248.4 604.9,247.2 605.6,246.0 606.2,244.7 606.9,243.1 607.6,241.4 608.2,239.7 608.9,238.0 609.5,236.3 610.2,234.6 610.9,233.1 611.5,231.7 612.2,230.6 612.8,229.7 613.5,229.0 614.2,228.4 614.9,227.7 615.5,227.0 616.2,226.2 616.9,225.0 617.5,223.3 618.1,220.9 618.7,217.9 619.3,214.5 619.9,211.1 620.5,207.8 621.1,204.0 621.7,199.6 622.3,195.3 622.8,192.1 623.4,190.8 624.0,191.4 624.6,192.9 625.2,195.0 625.7,197.5 626.3,199.9 627.0,203.0 627.6,206.7 628.2,210.6 628.9,214.0 629.5,217.2 630.2,220.5 630.8,223.8 631.5,227.0 632.1,229.9 632.7,232.6 633.4,235.0 634.0,236.8 634.7,238.0 635.4,238.9 636.0,239.8 636.7,240.5 637.4,241.2 638.1,241.8 638.8,242.2 639.4,242.5 640.1,242.6 640.7,242.6 641.3,242.7 641.9,242.7 642.4,242.7 643.0,242.7 643.7,242.6 644.4,242.5 645.1,242.3 645.8,242.0 646.5,241.7 647.2,241.2 647.9,240.8 648.6,240.3 649.3,239.8 650.0,239.2 650.7,238.6 651.4,238.0 652.1,237.4 652.8,236.8 653.4,236.2 654.1,235.7 654.8,235.1 655.5,234.6 656.2,234.1 656.9,233.7 657.6,233.4 658.3,233.0 659.0,232.8 659.7,232.6 660.3,232.5 661.0,232.4 661.6,232.2 662.3,232.1 662.9,232.0 663.6,231.9 664.2,231.8 664.9,231.7 665.5,231.6 666.2,231.5 666.8,231.4 667.5,231.3 668.1,231.1 668.8,230.9 669.5,230.6 670.2,230.2 670.8,229.6 671.5,228.9 672.2,228.1 672.9,227.3 673.6,226.3 674.3,225.3 674.9,224.3 675.6,223.2 676.3,222.0 677.0,220.9 677.7,219.8 678.4,218.6 679.0,217.5 679.7,216.5 680.4,215.5 681.1,214.6 681.8,213.7 682.4,213.0 683.1,212.3 683.8,211.8 684.5,211.4 685.2,211.2 685.9,211.1 686.5,211.2 687.2,211.4 687.9,211.8 688.5,212.3 689.2,213.0 689.9,213.7 690.5,214.6 691.2,215.5 691.9,216.5 692.5,217.5 693.2,218.6 693.9,219.7 694.6,220.8 695.2,221.9 695.9,223.0 696.6,224.0 697.2,225.1 697.9,226.0 698.6,226.9 699.2,227.8 699.9,228.7 700.6,229.6 701.2,230.6 701.9,231.6 702.6,232.6 703.2,233.5 703.9,234.5 704.6,235.5 705.2,236.5 705.9,237.4 706.6,238.3 707.2,239.1 707.9,240.0 708.5,240.7 709.2,241.5 709.9,242.1 710.5,242.7 711.2,243.2 711.9,243.8 712.5,244.3 713.2,244.9 713.8,245.4 714.5,245.9 715.1,246.4 715.8,246.9 716.4,247.3 717.1,247.6 717.7,248.0 718.4,248.2 719.0,248.4 719.7,248.5 720.3,248.6 721.0,248.3 721.7,247.6 722.4,246.4 723.0,244.9 723.7,243.0 724.4,240.9 725.0,238.5 725.7,235.9 726.4,233.1 727.0,230.3 727.7,227.3 728.4,224.4 729.0,221.5 729.7,218.7 730.4,216.0 731.0,213.4 731.7,211.1" fill="none" stroke="#800000" stroke-width="1.6" stroke-linejoin="round" stroke-linecap="round" />
<polyline points="441.2,264.9 441.2,267.4 441.9,267.4 442.6,267.4 443.3,267.4 444.0,267.5 444.7,267.5 445.3,267.5 446.0,267.5 446.7,267.6 447.4,267.6 448.1,267.6 448.8,267.6 449.5,267.6 450.2,267.7 450.9,267.7 451.6,267.7 452.3,267.7 453.0,267.7 453.6,267.7 454.3,267.7 455.0,267.7 455.7,267.7 456.4,267.7 457.1,267.7 457.8,267.7 458.5,267.7 459.2,267.7 459.9,267.7 460.6,267.7 461.3,267.7 461.9,267.7 462.6,267.7 463.3,267.6 464.0,267.6 464.7,267.6 465.4,267.6 466.1,267.6 466.8,267.5 467.5,267.5 468.2,267.5 468.9,267.5 469.5,267.4 470.2,267.4 470.9,267.3 471.6,267.3 472.3,267.2 473.0,267.0 473.7,266.9 474.4,266.7 475.1,266.5 475.8,266.3 476.5,266.1 477.2,265.8 477.8,265.6 478.5,265.3 479.2,265.0 479.9,264.7 480.6,264.4 481.3,264.1 482.0,263.8 482.7,263.5 483.4,263.2 484.1,262.9 484.8,262.5 485.4,262.2 486.1,261.8 486.8,261.5 487.5,261.0 488.2,260.6 488.9,260.1 489.6,259.7 490.3,259.2 491.0,258.6 491.6,258.1 492.3,257.6 493.0,257.0 493.7,256.5 494.4,255.9 495.1,255.3 495.8,254.7 496.5,254.1 497.1,253.5 497.8,253.0 498.5,252.4 499.2,251.8 499.9,251.2 500.5,250.5 501.2,249.9 501.9,249.3 502.5,248.6 503.2,247.9 503.9,247.2 504.6,246.5 505.2,245.8 505.9,245.1 506.6,244.3 507.3,243.5 507.9,242.7 508.6,241.9 509.3,241.0 510.0,240.1 510.7,239.2 511.3,238.3 512.0,237.3 512.7,236.4 513.4,235.4 514.1,234.4 514.8,233.4 515.4,232.5 516.1,231.5 516.8,230.6 517.5,229.6 518.2,228.7 518.8,227.8 519.5,227.0 520.1,226.1 520.8,225.3 521.5,224.4 522.1,223.6 522.8,222.8 523.5,221.9 524.1,221.1 524.8,220.2 525.4,219.4 526.1,218.5 526.8,217.6 527.4,216.7 528.1,215.8 528.7,214.9 529.4,213.9 530.1,212.9 530.8,211.9 531.5,210.8 532.1,209.7 532.8,208.6 533.5,207.4 534.2,206.3 534.9,205.1 535.5,203.9 536.2,202.7 536.9,201.5 537.6,200.3 538.3,199.1 538.9,197.9 539.6,196.7 540.3,195.5 541.0,194.4 541.6,193.2 542.3,192.0 542.9,190.8 543.6,189.7 544.3,188.5 544.9,187.3 545.6,186.0 546.3,184.8 546.9,183.6 547.6,182.4 548.2,181.2 548.9,180.0 549.6,178.7 550.2,177.5 550.9,176.3 551.6,175.1 552.2,173.8 552.9,172.6 553.6,171.3 554.3,170.1 555.0,168.8 555.6,167.5 556.3,166.3 557.0,165.0 557.7,163.7 558.4,162.5 559.0,161.2 559.7,159.9 560.4,158.6 561.1,157.3 561.8,156.1 562.4,154.8 563.1,153.5 563.8,152.3 564.5,151.1 565.2,149.9 565.9,148.7 566.6,147.5 567.3,146.2 568.0,144.9 568.7,143.5 569.4,141.9 570.1,140.3 570.7,138.4 571.4,136.1 572.1,133.7 572.8,131.1 573.5,128.5 574.1,126.0 574.8,123.9 575.5,122.1 576.2,120.7 576.8,119.2 577.5,117.7 578.1,116.3 578.8,114.9 579.4,113.5 580.1,112.2 580.7,111.0 581.4,110.0 582.0,109.0 582.7,108.2 583.4,107.5 584.0,107.0 584.7,106.7 585.3,106.6 586.0,106.6 586.6,106.7 587.2,106.8 587.9,106.9 588.5,107.1 589.2,107.3 589.8,107.5 590.5,107.8 591.1,108.0 591.8,108.3 592.5,108.5 593.2,108.9 593.9,109.3 594.6,109.7 595.3,110.1 595.9,110.6 596.6,111.1 597.3,111.6 598.0,112.2 598.7,112.8 599.3,113.5 600.0,114.3 600.7,115.2 601.3,116.2 602.0,117.1 602.6,118.1 603.3,119.2 604.0,120.2 604.6,121.2 605.3,122.1 606.0,123.2 606.6,124.4 607.3,125.6 608.0,126.8 608.7,127.9 609.4,128.9 610.0,129.6 610.7,129.9 611.3,130.1 612.0,130.2 612.6,130.3 613.2,130.4 613.8,130.5 614.5,130.6 615.1,130.6 615.7,130.2 616.2,129.3 616.8,128.0 617.4,126.4 618.0,124.9 618.7,122.6 619.3,119.4 620.0,115.7 620.7,112.1 621.4,108.9 622.0,106.7 622.7,105.9 623.3,106.5 623.9,108.3 624.5,110.8 625.1,113.7 625.7,116.6 626.3,119.3 627.0,121.8 627.6,124.6 628.2,127.4 628.8,130.2 629.4,132.9 630.1,135.4 630.7,137.6 631.4,139.8 632.0,141.9 632.7,143.9 633.4,145.7 634.1,147.5 634.8,149.1 635.5,150.5 636.1,151.7 636.8,152.7 637.5,153.6 638.1,154.4 638.8,155.2 639.4,155.9 640.1,156.6 640.8,157.2 641.4,157.9 642.1,158.5 642.7,159.2 643.4,160.0 644.1,160.8 644.8,161.6 645.4,162.4 646.1,163.2 646.8,164.0 647.5,164.8 648.2,165.6 648.9,166.4 649.5,167.2 650.2,168.0 650.9,168.8 651.6,169.6 652.3,170.4 653.0,171.2 653.6,172.0 654.3,172.8 655.0,173.5 655.7,174.3 656.4,175.1 657.1,175.9 657.8,176.6 658.4,177.4 659.1,178.2 659.8,178.9 660.5,179.7 661.2,180.5 661.9,181.2 662.6,182.0 663.3,182.7 664.0,183.5 664.6,184.3 665.3,185.0 666.0,185.8 666.7,186.5 667.4,187.3 668.1,188.0 668.8,188.7 669.5,189.5 670.2,190.2 670.8,191.0 671.5,191.7 672.2,192.4 672.9,193.1 673.6,193.9 674.3,194.6 675.0,195.3 675.7,196.0 676.3,196.8 677.0,197.5 677.7,198.3 678.4,199.0 679.1,199.7 679.8,200.5 680.4,201.2 681.1,201.9 681.8,202.7 682.5,203.4 683.2,204.0 683.9,204.7 684.5,205.3 685.2,206.0 685.9,206.5 686.6,207.1 687.3,207.6 687.9,208.1 688.6,208.6 689.2,209.0 689.9,209.5 690.6,209.9 691.2,210.3 691.9,210.7 692.6,211.1 693.2,211.5 693.9,211.8 694.6,212.3 695.2,212.7 695.9,213.1 696.6,213.5 697.2,214.0 697.9,214.5 698.6,215.0 699.2,215.5 699.9,216.1 700.6,216.8 701.2,217.4 701.9,218.1 702.6,218.9 703.2,219.6 703.9,220.3 704.6,221.1 705.2,221.8 705.9,222.6 706.6,223.3 707.2,224.0 707.9,224.6 708.5,225.3 709.2,225.9 709.9,226.4 710.5,226.9 711.2,227.4 711.9,227.9 712.5,228.4 713.2,228.9 713.8,229.4 714.5,229.8 715.1,230.3 715.8,230.7 716.4,231.1 717.1,231.5 717.7,231.8 718.4,232.0 719.0,232.2 719.7,232.3 720.3,232.4 721.0,232.3 721.7,232.1 722.4,231.7 723.1,231.1 723.8,230.5 724.5,229.7 725.1,228.8 725.8,227.9 726.5,226.9 727.2,225.5 727.8,223.4 728.5,220.8 729.1,217.8 729.8,214.5 730.4,211.2 731.1,208.0 731.7,205.1" fill="none" stroke="#ff80ff" stroke-width="1.6" stroke-linejoin="round" stroke-linecap="round" />
<polyline points="441.2,273.1 441.9,273.1 442.6,273.1 443.3,273.1 444.0,273.1 444.7,273.1 445.3,273.1 446.0,273.1 446.7,273.1 447.4,273.1 448.1,273.1 448.8,273.1 449.5,273.1 450.2,273.1 450.9,273.1 451.6,273.1 452.3,273.1 453.0,273.1 453.6,273.1 454.3,273.1 455.0,273.1 455.7,273.1 456.4,273.1 457.1,273.1 457.8,273.1 458.5,273.1 459.2,273.1 459.9,273.1 460.6,273.1 461.3,273.1 461.9,273.1 462.6,273.1 463.3,273.1 464.0,273.1 464.7,273.1 465.4,273.1 466.1,273.1 466.8,273.1 467.5,273.1 468.2,273.1 468.9,273.1 469.5,273.1 470.2,273.1 470.9,273.1 471.6,273.1 472.3,273.1 473.0,273.0 473.7,273.0 474.4,273.0 475.1,273.0 475.8,273.0 476.4,272.9 477.1,272.9 477.8,272.9 478.5,272.8 479.2,272.8 479.9,272.8 480.6,272.7 481.3,272.7 482.0,272.6 482.7,272.6 483.3,272.5 484.0,272.5 484.7,272.4 485.4,272.4 486.1,272.3 486.8,272.3 487.5,272.2 488.2,272.2 488.9,272.1 489.6,272.0 490.2,272.0 490.9,271.9 491.6,271.8 492.3,271.8 493.0,271.7 493.7,271.6 494.4,271.6 495.1,271.5 495.8,271.4 496.4,271.4 497.1,271.3 497.8,271.2 498.5,271.2 499.2,271.1 499.9,271.0 500.5,270.9 501.2,270.8 501.9,270.7 502.6,270.6 503.2,270.5 503.9,270.3 504.6,270.2 505.3,270.1 506.0,270.0 506.6,269.8 507.3,269.7 508.0,269.6 508.7,269.4 509.3,269.3 510.0,269.1 510.7,269.0 511.4,268.9 512.1,268.7 512.7,268.6 513.4,268.4 514.1,268.3 514.8,268.2 515.4,268.0 516.1,267.9 516.8,267.8 517.5,267.7 518.2,267.5 518.8,267.4 519.5,267.3 520.1,267.2 520.8,267.1 521.5,267.0 522.1,266.9 522.8,266.8 523.5,266.7 524.1,266.5 524.8,266.4 525.4,266.3 526.1,266.2 526.8,266.1 527.4,266.0 528.1,265.9 528.7,265.8 529.4,265.7 530.1,265.6 530.8,265.5 531.5,265.3 532.1,265.2 532.8,265.1 533.5,265.0 534.2,264.8 534.9,264.7 535.5,264.6 536.2,264.5 536.9,264.4 537.6,264.2 538.3,264.1 538.9,264.0 539.6,263.9 540.3,263.8 541.0,263.8 541.7,263.7 542.4,263.6 543.0,263.5 543.7,263.4 544.4,263.3 545.1,263.2 545.8,263.1 546.5,263.0 547.2,262.9 547.8,262.8 548.5,262.7 549.2,262.7 549.9,262.6 550.6,262.5 551.3,262.4 552.0,262.4 552.6,262.3 553.3,262.2 554.0,262.2 554.7,262.1 555.4,262.1 556.1,262.1 556.8,262.0 557.4,262.0 558.1,262.0 558.8,262.0 559.5,262.0 560.2,262.0 560.9,262.0 561.6,262.0 562.3,262.0 563.0,262.1 563.6,262.1 564.3,262.1 565.0,262.1 565.7,262.2 566.4,262.2 567.1,262.2 567.8,262.3 568.5,262.3 569.2,262.3 569.8,262.4 570.5,262.4 571.2,262.5 571.9,262.5 572.6,262.6 573.3,262.6 574.0,262.7 574.7,262.7 575.4,262.8 576.1,262.8 576.7,262.9 577.4,262.9 578.1,263.0 578.8,263.0 579.5,263.1 580.2,263.1 580.9,263.2 581.6,263.2 582.3,263.2 583.0,263.3 583.6,263.3 584.3,263.4 585.0,263.4 585.7,263.4 586.4,263.5 587.1,263.5 587.8,263.6 588.5,263.6 589.2,263.6 589.8,263.7 590.5,263.7 591.2,263.8 591.9,263.8 592.6,263.8 593.3,263.9 594.0,263.9 594.7,264.0 595.4,264.0 596.1,264.0 596.7,264.1 597.4,264.1 598.1,264.2 598.8,264.2 599.5,264.3 600.2,264.3 600.9,264.3 601.6,264.4 602.3,264.4 603.0,264.4 603.6,264.5 604.3,264.5 605.0,264.5 605.7,264.6 606.4,264.6 607.1,264.6 607.8,264.7 608.5,264.7 609.2,264.7 609.8,264.7 610.5,264.7 611.2,264.7 611.9,264.7 612.6,264.8 613.3,264.8 614.0,264.8 614.6,264.7 615.3,264.6 615.9,264.5 616.5,264.3 617.2,264.1 617.8,263.8 618.4,263.5 619.1,263.1 619.7,262.3 620.3,260.6 620.9,258.6 621.5,256.7 622.1,255.2 622.7,254.6 623.3,255.1 623.9,256.2 624.5,257.8 625.1,259.4 625.7,260.8 626.3,261.7 627.0,262.2 627.6,262.5 628.2,262.9 628.8,263.1 629.4,263.4 630.1,263.6 630.7,263.8 631.4,264.1 632.0,264.4 632.7,264.6 633.4,264.9 634.1,265.1 634.7,265.3 635.4,265.6 636.1,265.8 636.8,266.0 637.4,266.1 638.1,266.3 638.8,266.4 639.4,266.5 640.1,266.6 640.8,266.7 641.5,266.7 642.2,266.8 642.9,266.9 643.6,266.9 644.3,267.0 645.0,267.1 645.7,267.1 646.4,267.2 647.1,267.2 647.8,267.3 648.5,267.4 649.2,267.4 649.9,267.5 650.6,267.5 651.3,267.6 652.0,267.6 652.7,267.6 653.4,267.7 654.1,267.7 654.8,267.8 655.5,267.8 656.2,267.9 656.9,267.9 657.5,267.9 658.2,268.0 658.9,268.0 659.6,268.0 660.3,268.1 661.0,268.1 661.7,268.1 662.4,268.1 663.1,268.2 663.8,268.2 664.5,268.2 665.2,268.2 665.9,268.3 666.6,268.3 667.3,268.3 668.0,268.3 668.7,268.3 669.4,268.3 670.1,268.3 670.8,268.4 671.5,268.4 672.2,268.4 672.9,268.4 673.6,268.4 674.3,268.4 675.0,268.4 675.6,268.4 676.3,268.4 677.0,268.3 677.7,268.3 678.4,268.2 679.0,268.2 679.7,268.1 680.4,268.0 681.1,267.9 681.7,267.8 682.4,267.7 683.1,267.6 683.8,267.5 684.4,267.4 685.1,267.3 685.8,267.2 686.5,267.1 687.1,267.0 687.8,266.9 688.5,266.9 689.2,266.8 689.8,266.7 690.5,266.6 691.2,266.6 691.9,266.5 692.5,266.5 693.2,266.4 693.9,266.4 694.6,266.4 695.3,266.4 696.0,266.4 696.6,266.4 697.3,266.4 698.0,266.5 698.7,266.5 699.4,266.5 700.1,266.6 700.8,266.6 701.5,266.7 702.1,266.7 702.8,266.8 703.5,266.8 704.2,266.9 704.9,266.9 705.6,267.0 706.3,267.0 707.0,267.1 707.7,267.1 708.3,267.2 709.0,267.2 709.7,267.2 710.4,267.3 711.1,267.3 711.8,267.3 712.5,267.4 713.2,267.4 713.9,267.4 714.5,267.4 715.2,267.4 715.8,267.3 716.5,267.3 717.2,267.2 717.8,267.1 718.5,266.9 719.1,266.8 719.8,266.6 720.4,266.4 721.1,266.1 721.7,265.9 722.4,265.6 723.0,265.3 723.7,264.9 724.3,264.6 725.0,264.0 725.6,263.1 726.2,261.9 726.8,260.3 727.5,258.5 728.1,256.3 728.7,253.9 729.3,250.1 729.9,244.2 730.5,237.1 731.1,229.7 731.7,222.9" fill="none" stroke="#0000ff" stroke-width="1.6" stroke-linejoin="round" stroke-linecap="round" />
</g>
<rect x="441.2" y="62.2" width="290.4" height="213.0" fill="none" stroke="#666" stroke-width="1.3"/>
<line x1="437.20" y1="275.20" x2="441.20" y2="275.20" stroke="#666" stroke-width="1.2" />
<text x="433.7" y="279.8" font-size="14" text-anchor="end" font-weight="normal" fill="#000" font-family='"Liberation Serif", serif' >0.00</text>
<line x1="438.70" y1="257.45" x2="441.20" y2="257.45" stroke="#666" stroke-width="1.2" />
<line x1="437.20" y1="239.70" x2="441.20" y2="239.70" stroke="#666" stroke-width="1.2" />
<text x="433.7" y="244.29999999999998" font-size="14" text-anchor="end" font-weight="normal" fill="#000" font-family='"Liberation Serif", serif' >0.05</text>
<line x1="438.70" y1="221.95" x2="441.20" y2="221.95" stroke="#666" stroke-width="1.2" />
<line x1="437.20" y1="204.20" x2="441.20" y2="204.20" stroke="#666" stroke-width="1.2" />
<text x="433.7" y="208.79999999999998" font-size="14" text-anchor="end" font-weight="normal" fill="#000" font-family='"Liberation Serif", serif' >0.10</text>
<line x1="438.70" y1="186.45" x2="441.20" y2="186.45" stroke="#666" stroke-width="1.2" />
<line x1="437.20" y1="168.70" x2="441.20" y2="168.70" stroke="#666" stroke-width="1.2" />
<text x="433.7" y="173.29999999999995" font-size="14" text-anchor="end" font-weight="normal" fill="#000" font-family='"Liberation Serif", serif' >0.15</text>
<line x1="438.70" y1="150.95" x2="441.20" y2="150.95" stroke="#666" stroke-width="1.2" />
<line x1="437.20" y1="133.20" x2="441.20" y2="133.20" stroke="#666" stroke-width="1.2" />
<text x="433.7" y="137.79999999999998" font-size="14" text-anchor="end" font-weight="normal" fill="#000" font-family='"Liberation Serif", serif' >0.20</text>
<line x1="438.70" y1="115.45" x2="441.20" y2="115.45" stroke="#666" stroke-width="1.2" />
<line x1="437.20" y1="97.70" x2="441.20" y2="97.70" stroke="#666" stroke-width="1.2" />
<text x="433.7" y="102.29999999999998" font-size="14" text-anchor="end" font-weight="normal" fill="#000" font-family='"Liberation Serif", serif' >0.25</text>
<line x1="438.70" y1="79.95" x2="441.20" y2="79.95" stroke="#666" stroke-width="1.2" />
<line x1="437.20" y1="62.20" x2="441.20" y2="62.20" stroke="#666" stroke-width="1.2" />
<text x="433.7" y="66.79999999999993" font-size="14" text-anchor="end" font-weight="normal" fill="#000" font-family='"Liberation Serif", serif' >0.30</text>
<line x1="441.20" y1="275.20" x2="441.20" y2="278.70" stroke="#666" stroke-width="1.2" />
<text x="441.2" y="293" font-size="14" text-anchor="middle" font-weight="normal" fill="#000" font-family='"Liberation Serif", serif' >3800</text>
<line x1="477.50" y1="275.20" x2="477.50" y2="277.40" stroke="#666" stroke-width="1.2" />
<line x1="513.80" y1="275.20" x2="513.80" y2="278.70" stroke="#666" stroke-width="1.2" />
<text x="513.8" y="293" font-size="14" text-anchor="middle" font-weight="normal" fill="#000" font-family='"Liberation Serif", serif' >3600</text>
<line x1="550.10" y1="275.20" x2="550.10" y2="277.40" stroke="#666" stroke-width="1.2" />
<line x1="586.40" y1="275.20" x2="586.40" y2="278.70" stroke="#666" stroke-width="1.2" />
<text x="586.4" y="293" font-size="14" text-anchor="middle" font-weight="normal" fill="#000" font-family='"Liberation Serif", serif' >3400</text>
<line x1="622.70" y1="275.20" x2="622.70" y2="277.40" stroke="#666" stroke-width="1.2" />
<line x1="659.00" y1="275.20" x2="659.00" y2="278.70" stroke="#666" stroke-width="1.2" />
<text x="659.0" y="293" font-size="14" text-anchor="middle" font-weight="normal" fill="#000" font-family='"Liberation Serif", serif' >3200</text>
<line x1="695.30" y1="275.20" x2="695.30" y2="277.40" stroke="#666" stroke-width="1.2" />
<line x1="731.60" y1="275.20" x2="731.60" y2="278.70" stroke="#666" stroke-width="1.2" />
<text x="731.6" y="293" font-size="14" text-anchor="middle" font-weight="normal" fill="#000" font-family='"Liberation Serif", serif' >3000</text>
<text x="586.4" y="318.4" font-size="14.8" text-anchor="middle" font-weight="normal" fill="#000" font-family='"Liberation Serif", serif' >Wavenumber (cm<tspan dy="-6" font-size="9">-1</tspan><tspan dy="6">)</tspan></text>
<text transform="translate(389.8,173.5) rotate(-90)" font-size="14.5" text-anchor="middle" font-family='"Liberation Serif", serif'>Absorbance (a.u.)</text>
<text x="545.5" y="86.3" font-size="26.3" text-anchor="start" font-weight="bold" fill="#ff0000" font-family='"Liberation Serif", serif' >-OH</text>
<text x="548" y="106.8" font-size="26.3" text-anchor="start" font-weight="bold" fill="#ff0000" font-family='"Liberation Serif", serif' >3398</text>
<text x="613" y="99" font-size="26.3" text-anchor="start" font-weight="bold" fill="#000" font-family='"Liberation Serif", serif' >3299</text>
<line x1="380.50" y1="548.20" x2="372.71" y2="518.57" stroke="#000" stroke-width="2.4" />
<polygon points="369.4,506.0 378.3,520.2 372.9,519.2 368.6,522.7" fill="#000"/>
<line x1="428.80" y1="601.50" x2="430.65" y2="586.11" stroke="#000" stroke-width="2.4" />
<polygon points="432.2,573.2 435.3,589.7 430.6,586.7 425.3,588.5" fill="#000"/>
<line x1="668.20" y1="616.70" x2="661.57" y2="598.61" stroke="#000" stroke-width="2.4" />
<polygon points="657.1,586.4 667.3,599.7 661.8,599.2 657.9,603.1" fill="#000"/>
<line x1="715.60" y1="558.70" x2="701.58" y2="472.33" stroke="#000" stroke-width="2.4" />
<polygon points="699.5,459.5 707.0,474.5 701.7,472.9 697.1,476.1" fill="#000"/>
<line x1="731.40" y1="571.90" x2="717.98" y2="436.74" stroke="#000" stroke-width="2.4" />
<polygon points="716.7,423.8 723.3,439.2 718.0,437.3 713.3,440.2" fill="#000"/>
<line x1="740.20" y1="577.20" x2="740.76" y2="397.60" stroke="#000" stroke-width="2.4" />
<polygon points="740.8,384.6 745.8,400.6 740.8,398.2 735.8,400.6" fill="#000"/>
<line x1="752.60" y1="582.50" x2="764.30" y2="365.68" stroke="#000" stroke-width="2.4" />
<polygon points="765.0,352.7 769.1,368.9 764.3,366.3 759.1,368.4" fill="#000"/>
<line x1="786.50" y1="476.40" x2="792.76" y2="326.19" stroke="#000" stroke-width="2.4" />
<polygon points="793.3,313.2 797.6,329.4 792.7,326.8 787.6,329.0" fill="#000"/>
<text x="196" y="460" font-size="28" text-anchor="start" font-weight="bold" fill="#ff0000" font-family='"Liberation Serif", serif' >-OH</text>
<text x="234" y="487.5" font-size="28" text-anchor="start" font-weight="bold" fill="#ff0000" font-family='"Liberation Serif", serif' >3398</text>
<text x="279.5" y="452.8" font-size="28" text-anchor="start" font-weight="bold" fill="#000" font-family='"Liberation Serif", serif' >3299</text>
<text x="333.5" y="469.2" font-size="28" text-anchor="start" font-weight="bold" fill="#000" font-family='"Liberation Serif", serif' >C-H</text>
<text x="330" y="502.7" font-size="28" text-anchor="start" font-weight="bold" fill="#000" font-family='"Liberation Serif", serif' >2976</text>
<text x="356.5" y="367.5" font-size="28" text-anchor="start" font-weight="bold" fill="#000" font-family='"Liberation Serif", serif' >C-H</text>
<text x="333" y="394.1" font-size="28" text-anchor="start" font-weight="bold" fill="#000" font-family='"Liberation Serif", serif' >2915</text>
<text x="412.5" y="435.4" font-size="28" text-anchor="start" font-weight="bold" fill="#000" font-family='"Liberation Serif", serif' >C-H</text>
<text x="408.5" y="465.5" font-size="28" text-anchor="start" font-weight="bold" fill="#000" font-family='"Liberation Serif", serif' >2849</text>
<text x="423.5" y="566.1" font-size="28" text-anchor="start" font-weight="bold" fill="#000" font-family='"Liberation Serif", serif' >2790</text>
<text x="563" y="552.1" font-size="28" text-anchor="start" font-weight="bold" fill="#ff0000" font-family='"Liberation Serif", serif' >-C=O</text>
<text x="616" y="579.8" font-size="28" text-anchor="start" font-weight="bold" fill="#ff0000" font-family='"Liberation Serif", serif' >1734</text>
<text x="654.5" y="459.2" font-size="28" text-anchor="start" font-weight="bold" fill="#000" font-family='"Liberation Serif", serif' >1551</text>
<text x="611.5" y="405" font-size="28" font-weight="bold" font-family='"Liberation Serif", serif'>-CH<tspan font-size="17" dy="9">2</tspan></text>
<text x="674" y="421.5" font-size="28" text-anchor="start" font-weight="bold" fill="#000" font-family='"Liberation Serif", serif' >1470</text>
<text x="638.5" y="367.2" font-size="28" font-weight="bold" font-family='"Liberation Serif", serif'>-CH<tspan font-size="17" dy="9">2</tspan></text>
<text x="700.5" y="379.7" font-size="28" text-anchor="start" font-weight="bold" fill="#000" font-family='"Liberation Serif", serif' >1432</text>
<text x="663" y="320.8" font-size="28" font-weight="bold" font-family='"Liberation Serif", serif'>-CH<tspan font-size="17" dy="9">2</tspan></text>
<text x="727" y="345.5" font-size="28" text-anchor="start" font-weight="bold" fill="#000" font-family='"Liberation Serif", serif' >1384</text>
<text x="735.5" y="265.4" font-size="28" font-weight="bold" font-family='"Liberation Serif", serif'>-CH<tspan font-size="17" dy="9">2</tspan></text>
<text x="755" y="304.2" font-size="28" text-anchor="start" font-weight="bold" fill="#000" font-family='"Liberation Serif", serif' >1235</text>
<text x="812.5" y="265.4" font-size="28" font-weight="bold" font-family='"Liberation Serif", serif'>-CH<tspan font-size="17" dy="9">2</tspan></text>
<text x="820.8" y="307" font-size="28" text-anchor="start" font-weight="bold" fill="#000" font-family='"Liberation Serif", serif' >931</text>
<text x="748" y="175.4" font-size="28" text-anchor="start" font-weight="bold" fill="#000" font-family='"Liberation Serif", serif' >C-O-C</text>
<text x="776.5" y="202.6" font-size="28" text-anchor="start" font-weight="bold" fill="#000" font-family='"Liberation Serif", serif' >1090</text>
<text x="845.5" y="152.7" font-size="28" text-anchor="start" font-weight="bold" fill="#000" font-family='"Liberation Serif", serif' >C-O-C</text>
<text x="857" y="184.5" font-size="28" text-anchor="start" font-weight="bold" fill="#000" font-family='"Liberation Serif", serif' >901</text>
<rect x="1020.5" y="49.5" width="386.0" height="284.0" fill="none" stroke="#333" stroke-width="1.3"/>
<line x1="1015.00" y1="333.50" x2="1020.50" y2="333.50" stroke="#333" stroke-width="1.3" />
<text transform="translate(1010.00,339.70) scale(1,1.15)" font-size="17.5" text-anchor="end" font-family='"Liberation Serif", serif'>0.00</text>
<line x1="1017.00" y1="305.10" x2="1020.50" y2="305.10" stroke="#333" stroke-width="1.3" />
<line x1="1015.00" y1="276.70" x2="1020.50" y2="276.70" stroke="#333" stroke-width="1.3" />
<text transform="translate(1010.00,282.90) scale(1,1.15)" font-size="17.5" text-anchor="end" font-family='"Liberation Serif", serif'>0.05</text>
<line x1="1017.00" y1="248.30" x2="1020.50" y2="248.30" stroke="#333" stroke-width="1.3" />
<line x1="1015.00" y1="219.90" x2="1020.50" y2="219.90" stroke="#333" stroke-width="1.3" />
<text transform="translate(1010.00,226.10) scale(1,1.15)" font-size="17.5" text-anchor="end" font-family='"Liberation Serif", serif'>0.10</text>
<line x1="1017.00" y1="191.50" x2="1020.50" y2="191.50" stroke="#333" stroke-width="1.3" />
<line x1="1015.00" y1="163.10" x2="1020.50" y2="163.10" stroke="#333" stroke-width="1.3" />
<text transform="translate(1010.00,169.30) scale(1,1.15)" font-size="17.5" text-anchor="end" font-family='"Liberation Serif", serif'>0.15</text>
<line x1="1017.00" y1="134.70" x2="1020.50" y2="134.70" stroke="#333" stroke-width="1.3" />
<line x1="1015.00" y1="106.30" x2="1020.50" y2="106.30" stroke="#333" stroke-width="1.3" />
<text transform="translate(1010.00,112.50) scale(1,1.15)" font-size="17.5" text-anchor="end" font-family='"Liberation Serif", serif'>0.20</text>
<line x1="1017.00" y1="77.90" x2="1020.50" y2="77.90" stroke="#333" stroke-width="1.3" />
<line x1="1015.00" y1="49.50" x2="1020.50" y2="49.50" stroke="#333" stroke-width="1.3" />
<text transform="translate(1010.00,55.70) scale(1,1.15)" font-size="17.5" text-anchor="end" font-family='"Liberation Serif", serif'>0.25</text>
<line x1="1020.50" y1="333.50" x2="1020.50" y2="339.50" stroke="#333" stroke-width="1.3" />
<text transform="translate(1021.30,357.50) scale(1,1.12)" font-size="17.5" text-anchor="middle" font-family='"Liberation Serif", serif'>0</text>
<line x1="1117.00" y1="333.50" x2="1117.00" y2="339.50" stroke="#333" stroke-width="1.3" />
<text transform="translate(1117.80,357.50) scale(1,1.12)" font-size="17.5" text-anchor="middle" font-family='"Liberation Serif", serif'>1</text>
<line x1="1213.50" y1="333.50" x2="1213.50" y2="339.50" stroke="#333" stroke-width="1.3" />
<text transform="translate(1214.30,357.50) scale(1,1.12)" font-size="17.5" text-anchor="middle" font-family='"Liberation Serif", serif'>2</text>
<line x1="1310.00" y1="333.50" x2="1310.00" y2="339.50" stroke="#333" stroke-width="1.3" />
<text transform="translate(1310.80,357.50) scale(1,1.12)" font-size="17.5" text-anchor="middle" font-family='"Liberation Serif", serif'>3</text>
<line x1="1406.50" y1="333.50" x2="1406.50" y2="339.50" stroke="#333" stroke-width="1.3" />
<text transform="translate(1407.30,357.50) scale(1,1.12)" font-size="17.5" text-anchor="middle" font-family='"Liberation Serif", serif'>4</text>
<line x1="1068.75" y1="333.50" x2="1068.75" y2="337.00" stroke="#333" stroke-width="1.3" />
<line x1="1165.25" y1="333.50" x2="1165.25" y2="337.00" stroke="#333" stroke-width="1.3" />
<line x1="1261.75" y1="333.50" x2="1261.75" y2="337.00" stroke="#333" stroke-width="1.3" />
<line x1="1358.25" y1="333.50" x2="1358.25" y2="337.00" stroke="#333" stroke-width="1.3" />
<text x="1213.5" y="388.5" font-size="19" text-anchor="middle" font-weight="normal" fill="#000" font-family='"Liberation Serif", serif' >Exposure (year)</text>
<circle cx="1165.2" cy="293.7" r="6.2" fill="#ff8000"/>
<circle cx="1213.5" cy="256.3" r="6.2" fill="#ff8000"/>
<circle cx="1261.8" cy="255.1" r="6.2" fill="#ff8000"/>
<circle cx="1310.0" cy="199.5" r="6.2" fill="#ff8000"/>
<circle cx="1358.2" cy="272.2" r="6.2" fill="#ff8000"/>
<circle cx="1117.0" cy="63.1" r="6.2" fill="#8000ff"/>
<circle cx="1165.2" cy="173.3" r="6.2" fill="#8000ff"/>
<circle cx="1213.5" cy="241.5" r="6.2" fill="#8000ff"/>
<circle cx="1261.8" cy="233.5" r="6.2" fill="#8000ff"/>
<circle cx="1310.0" cy="219.9" r="6.2" fill="#8000ff"/>
<circle cx="1047.3" cy="98.7" r="6.2" fill="#ff8000"/>
<circle cx="1047.3" cy="120.30000000000001" r="6.2" fill="#8000ff"/>
<text x="1072.3" y="104.7" font-size="18" text-anchor="start" font-weight="normal" fill="#000" font-family='"Liberation Serif", serif' >POM-Su, 3years</text>
<text x="1072.3" y="126.30000000000001" font-size="18" text-anchor="start" font-weight="normal" fill="#000" font-family='"Liberation Serif", serif' >POM-U, 1 year</text>
<rect x="1020.5" y="416" width="385.5" height="283.5" fill="none" stroke="#333" stroke-width="1.3"/>
<line x1="1015.00" y1="699.50" x2="1020.50" y2="699.50" stroke="#333" stroke-width="1.3" />
<text transform="translate(1010.00,705.70) scale(1,1.15)" font-size="17.5" text-anchor="end" font-family='"Liberation Serif", serif'>0.00</text>
<line x1="1017.00" y1="671.15" x2="1020.50" y2="671.15" stroke="#333" stroke-width="1.3" />
<line x1="1015.00" y1="642.80" x2="1020.50" y2="642.80" stroke="#333" stroke-width="1.3" />
<text transform="translate(1010.00,649.00) scale(1,1.15)" font-size="17.5" text-anchor="end" font-family='"Liberation Serif", serif'>0.05</text>
<line x1="1017.00" y1="614.45" x2="1020.50" y2="614.45" stroke="#333" stroke-width="1.3" />
<line x1="1015.00" y1="586.10" x2="1020.50" y2="586.10" stroke="#333" stroke-width="1.3" />
<text transform="translate(1010.00,592.30) scale(1,1.15)" font-size="17.5" text-anchor="end" font-family='"Liberation Serif", serif'>0.10</text>
<line x1="1017.00" y1="557.75" x2="1020.50" y2="557.75" stroke="#333" stroke-width="1.3" />
<line x1="1015.00" y1="529.40" x2="1020.50" y2="529.40" stroke="#333" stroke-width="1.3" />
<text transform="translate(1010.00,535.60) scale(1,1.15)" font-size="17.5" text-anchor="end" font-family='"Liberation Serif", serif'>0.15</text>
<line x1="1017.00" y1="501.05" x2="1020.50" y2="501.05" stroke="#333" stroke-width="1.3" />
<line x1="1015.00" y1="472.70" x2="1020.50" y2="472.70" stroke="#333" stroke-width="1.3" />
<text transform="translate(1010.00,478.90) scale(1,1.15)" font-size="17.5" text-anchor="end" font-family='"Liberation Serif", serif'>0.20</text>
<line x1="1017.00" y1="444.35" x2="1020.50" y2="444.35" stroke="#333" stroke-width="1.3" />
<line x1="1015.00" y1="416.00" x2="1020.50" y2="416.00" stroke="#333" stroke-width="1.3" />
<text transform="translate(1010.00,422.20) scale(1,1.15)" font-size="17.5" text-anchor="end" font-family='"Liberation Serif", serif'>0.25</text>
<line x1="1020.50" y1="699.50" x2="1020.50" y2="705.50" stroke="#333" stroke-width="1.3" />
<text transform="translate(1021.30,723.50) scale(1,1.12)" font-size="17.5" text-anchor="middle" font-family='"Liberation Serif", serif'>1.0</text>
<line x1="1116.88" y1="699.50" x2="1116.88" y2="705.50" stroke="#333" stroke-width="1.3" />
<text transform="translate(1117.67,723.50) scale(1,1.12)" font-size="17.5" text-anchor="middle" font-family='"Liberation Serif", serif'>1.5</text>
<line x1="1213.25" y1="699.50" x2="1213.25" y2="705.50" stroke="#333" stroke-width="1.3" />
<text transform="translate(1214.05,723.50) scale(1,1.12)" font-size="17.5" text-anchor="middle" font-family='"Liberation Serif", serif'>2.0</text>
<line x1="1309.62" y1="699.50" x2="1309.62" y2="705.50" stroke="#333" stroke-width="1.3" />
<text transform="translate(1310.42,723.50) scale(1,1.12)" font-size="17.5" text-anchor="middle" font-family='"Liberation Serif", serif'>2.5</text>
<line x1="1406.00" y1="699.50" x2="1406.00" y2="705.50" stroke="#333" stroke-width="1.3" />
<text transform="translate(1406.80,723.50) scale(1,1.12)" font-size="17.5" text-anchor="middle" font-family='"Liberation Serif", serif'>3.0</text>
<line x1="1068.69" y1="699.50" x2="1068.69" y2="703.00" stroke="#333" stroke-width="1.3" />
<line x1="1165.06" y1="699.50" x2="1165.06" y2="703.00" stroke="#333" stroke-width="1.3" />
<line x1="1261.44" y1="699.50" x2="1261.44" y2="703.00" stroke="#333" stroke-width="1.3" />
<line x1="1357.81" y1="699.50" x2="1357.81" y2="703.00" stroke="#333" stroke-width="1.3" />
<text x="1213.25" y="754.5" font-size="19" text-anchor="middle" font-weight="normal" fill="#000" font-family='"Liberation Serif", serif' >Diameter (mm)</text>
<circle cx="1072.5" cy="638.3" r="6.2" fill="#ff8000"/>
<circle cx="1150.2" cy="565.7" r="6.2" fill="#ff8000"/>
<circle cx="1167.6" cy="621.3" r="6.2" fill="#ff8000"/>
<circle cx="1247.6" cy="622.4" r="6.2" fill="#ff8000"/>
<circle cx="1328.3" cy="659.8" r="6.2" fill="#ff8000"/>
<circle cx="1072.5" cy="586.1" r="6.2" fill="#8000ff"/>
<circle cx="1150.2" cy="599.7" r="6.2" fill="#8000ff"/>
<circle cx="1167.6" cy="607.6" r="6.2" fill="#8000ff"/>
<circle cx="1247.6" cy="539.6" r="6.2" fill="#8000ff"/>
<circle cx="1328.3" cy="429.6" r="6.2" fill="#8000ff"/>
<circle cx="1044.2" cy="464.4" r="6.2" fill="#ff8000"/>
<circle cx="1044.2" cy="486.0" r="6.2" fill="#8000ff"/>
<text x="1068.4" y="470.4" font-size="17.2" text-anchor="start" font-weight="normal" fill="#000" font-family='"Liberation Serif", serif' >POM-Su, 3years</text>
<text x="1068.4" y="492.0" font-size="17.2" text-anchor="start" font-weight="normal" fill="#000" font-family='"Liberation Serif", serif' >POM-U, 1 year</text>
</svg></body></html>
